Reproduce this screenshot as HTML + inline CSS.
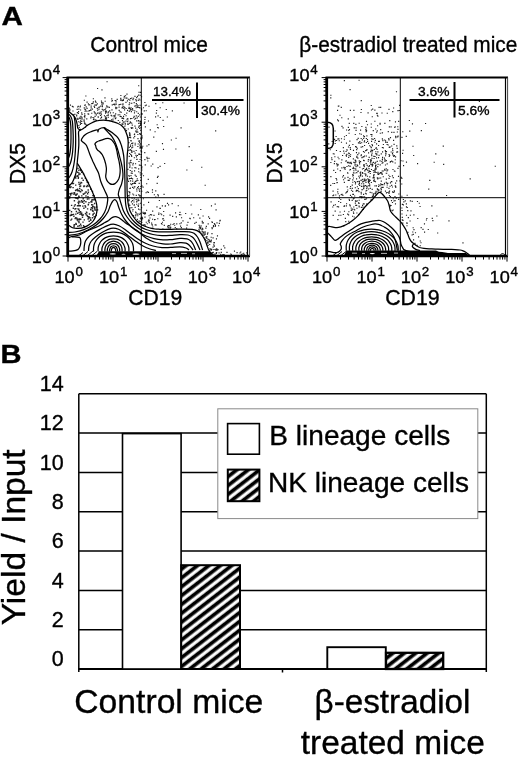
<!DOCTYPE html>
<html lang="en"><head><meta charset="utf-8"><title>Figure</title>
<style>html,body{margin:0;padding:0;background:#fff;overflow:hidden}svg{display:block}text{font-family:"Liberation Sans", Arial, Helvetica, sans-serif;fill:#000;stroke:#000;stroke-width:0.35px}</style>
</head><body>
<svg width="520" height="758" viewBox="0 0 520 758">
<defs><pattern id="h" width="20" height="7" patternUnits="userSpaceOnUse" patternTransform="translate(181.0 567.3) rotate(-37.8)"><rect x="0" y="0" width="20" height="7" fill="#fff"/><rect x="0" y="-0.2" width="20" height="3.75" fill="#000"/><rect x="0" y="6.8" width="20" height="0.4" fill="#000"/></pattern><pattern id="h2" width="20" height="7" patternUnits="userSpaceOnUse" patternTransform="translate(181.0 573.0) rotate(-37.8)"><rect x="0" y="0" width="20" height="7" fill="#fff"/><rect x="0" y="-0.2" width="20" height="3.75" fill="#000"/><rect x="0" y="6.8" width="20" height="0.4" fill="#000"/></pattern><pattern id="h3" width="20" height="7" patternUnits="userSpaceOnUse" patternTransform="translate(181.0 567.3) rotate(-37.8)"><rect x="0" y="0" width="20" height="7" fill="#fff"/><rect x="0" y="-0.2" width="20" height="3.75" fill="#000"/><rect x="0" y="6.8" width="20" height="0.4" fill="#000"/></pattern></defs>
<rect width="520" height="758" fill="#fff"/>
<text x="1.6" y="25" font-size="25" font-weight="bold" textLength="21.4" lengthAdjust="spacingAndGlyphs" stroke="none">A</text>
<text x="0.4" y="362.5" font-size="25" font-weight="bold" textLength="21" lengthAdjust="spacingAndGlyphs" stroke="none">B</text>
<text x="90.3" y="52" font-size="22" textLength="117.5" lengthAdjust="spacingAndGlyphs">Control mice</text>
<text x="299.3" y="51.5" font-size="22" textLength="218" lengthAdjust="spacingAndGlyphs">β-estradiol treated mice</text>
<g id="p1">
<rect x="68.0" y="77.5" width="180.0" height="178.5" fill="#fff"/>
<path d="M88.5 221.2h1.4M78.5 190.7h1.4M76.2 218.7h1.4M92.0 206.8h1.4M87.7 182.4h1.4M76.9 213.2h1.4M73.4 225.0h1.4M84.7 178.3h1.4M87.7 204.5h1.4M94.0 207.5h1.4M90.1 220.3h1.4M93.3 195.7h1.4M74.6 177.0h1.4M86.7 199.0h1.4M81.1 195.9h1.4M74.9 190.6h1.4M86.1 212.7h1.4M74.9 194.9h1.4M77.7 219.1h1.4M74.5 218.5h1.4M82.5 198.7h1.4M72.4 187.6h1.4M83.0 194.3h1.4M85.8 212.3h1.4M75.2 223.4h1.4M91.9 210.8h1.4M81.3 178.3h1.4M87.4 219.0h1.4M90.3 209.9h1.4M70.6 193.5h1.4M77.3 198.2h1.4M88.3 202.6h1.4M77.1 190.8h1.4M77.1 175.7h1.4M75.3 195.4h1.4M74.5 204.7h1.4M79.3 174.0h1.4M76.8 205.7h1.4M93.5 216.8h1.4M68.9 198.1h1.4M85.7 192.1h1.4M90.1 201.9h1.4M92.5 214.2h1.4M79.9 224.3h1.4M87.3 196.8h1.4M70.0 195.0h1.4M79.9 191.8h1.4M78.9 219.0h1.4M79.6 169.4h1.4M76.1 218.2h1.4M83.9 186.1h1.4M81.0 172.2h1.4M78.2 170.4h1.4M94.3 210.0h1.4M78.2 205.8h1.4M73.9 193.3h1.4M87.7 192.2h1.4M84.2 193.2h1.4M80.8 200.8h1.4M80.3 182.5h1.4M80.9 214.5h1.4M73.3 194.2h1.4M75.6 224.2h1.4M69.0 186.0h1.4M96.9 209.9h1.4M75.7 211.5h1.4M77.1 190.1h1.4M84.9 207.0h1.4M86.9 216.6h1.4M79.6 205.8h1.4M75.1 178.0h1.4M76.6 189.7h1.4M77.5 202.5h1.4M86.5 215.5h1.4M91.8 191.4h1.4M95.8 207.0h1.4M80.9 182.7h1.4M93.4 213.2h1.4M73.4 227.0h1.4M85.2 191.9h1.4M95.3 210.1h1.4M78.1 173.0h1.4M77.3 168.5h1.4M93.5 199.3h1.4M87.6 204.7h1.4M91.7 217.8h1.4M78.8 225.7h1.4M81.8 217.3h1.4M79.2 186.2h1.4M78.5 184.4h1.4M70.9 205.4h1.4M83.2 203.4h1.4M78.3 222.6h1.4M91.4 199.6h1.4M80.0 219.3h1.4M81.5 190.5h1.4M95.6 215.2h1.4M88.2 198.9h1.4M80.6 189.9h1.4M75.4 190.0h1.4M75.8 176.1h1.4M79.2 202.1h1.4M92.7 199.9h1.4M91.0 204.7h1.4M69.0 187.2h1.4M72.6 208.3h1.4M79.4 191.6h1.4M73.3 227.0h1.4M76.9 172.2h1.4M79.7 183.9h1.4M74.3 209.0h1.4M84.8 213.6h1.4M91.9 208.9h1.4M71.0 215.3h1.4M87.5 186.1h1.4M85.3 196.0h1.4M76.4 198.4h1.4M69.0 210.4h1.4M81.5 202.2h1.4M88.8 214.0h1.4M78.4 212.6h1.4M79.3 214.4h1.4M83.6 200.8h1.4M83.4 185.9h1.4M70.6 214.4h1.4M72.8 214.4h1.4M83.1 186.5h1.4M77.2 226.2h1.4M78.1 209.2h1.4M86.9 193.7h1.4M86.9 208.9h1.4M85.6 214.9h1.4M77.6 178.2h1.4M82.2 215.0h1.4M82.3 222.1h1.4M73.7 200.8h1.4M77.1 198.8h1.4M73.8 192.6h1.4M77.7 177.4h1.4M82.6 214.9h1.4M85.2 201.8h1.4M75.3 198.1h1.4M83.6 226.7h1.4M86.6 185.5h1.4M74.0 224.6h1.4M91.1 201.0h1.4M82.6 194.0h1.4M74.8 197.7h1.4M75.6 194.5h1.4M71.0 219.1h1.4M69.1 196.7h1.4M90.7 207.8h1.4M71.3 193.5h1.4M82.8 173.9h1.4M72.6 183.5h1.4M80.5 225.9h1.4M78.4 221.9h1.4M69.4 193.8h1.4M77.3 208.9h1.4M86.5 182.0h1.4M90.0 209.5h1.4M94.1 208.6h1.4M71.4 214.6h1.4M71.3 193.2h1.4M93.9 203.5h1.4M69.6 187.5h1.4M73.4 226.5h1.4M85.9 180.3h1.4M82.9 225.8h1.4M75.1 208.6h1.4M89.3 217.7h1.4M80.0 170.5h1.4M83.6 219.9h1.4M77.5 221.1h1.4M76.5 194.0h1.4M88.1 216.6h1.4M80.2 213.1h1.4M92.1 215.1h1.4M76.6 220.0h1.4M91.1 202.1h1.4M78.6 210.8h1.4M70.8 211.8h1.4M81.0 213.3h1.4M86.0 186.6h1.4M78.1 196.2h1.4M78.2 174.6h1.4M76.9 189.2h1.4M72.8 183.4h1.4M87.5 190.0h1.4M73.7 206.1h1.4M89.9 219.5h1.4M94.2 199.7h1.4M75.1 217.6h1.4M92.0 205.0h1.4M82.5 180.3h1.4M93.4 206.9h1.4M88.4 217.2h1.4M69.6 215.5h1.4M70.2 220.1h1.4M76.4 198.3h1.4M81.5 215.3h1.4M73.2 216.3h1.4M92.4 211.2h1.4M88.1 218.0h1.4M83.2 208.3h1.4M82.1 201.5h1.4M77.1 176.3h1.4M94.2 199.5h1.4M78.2 182.5h1.4M78.6 197.2h1.4M73.4 192.8h1.4M79.0 188.5h1.4M79.9 186.0h1.4M84.4 205.7h1.4M72.0 183.6h1.4M82.1 206.1h1.4M79.9 211.7h1.4M78.2 201.1h1.4M92.2 206.6h1.4M91.4 207.7h1.4M75.1 214.1h1.4M78.7 219.8h1.4M76.9 219.3h1.4M79.1 201.9h1.4M78.0 203.9h1.4M70.5 186.9h1.4M79.1 202.0h1.4M92.2 195.6h1.4M90.2 189.2h1.4M75.0 185.1h1.4" stroke="#000" stroke-width="1.4" stroke-opacity="0.85" fill="none"/>
<path d="M99.4 112.2h1.15M141.0 151.9h1.15M130.9 155.4h1.15M131.8 173.2h1.15M139.7 95.2h1.15M86.5 108.4h1.15M134.3 186.7h1.15M133.9 112.8h1.15M77.7 106.3h1.15M138.1 204.0h1.15M127.0 110.3h1.15M131.0 128.3h1.15M135.0 163.7h1.15M79.7 129.2h1.15M136.1 204.2h1.15M97.1 110.1h1.15M94.0 107.3h1.15M127.2 118.5h1.15M95.8 114.9h1.15M141.0 160.5h1.15M95.4 102.4h1.15M76.8 112.6h1.15M120.3 95.5h1.15M100.7 111.7h1.15M123.0 118.6h1.15M137.2 132.1h1.15M110.6 115.4h1.15M89.1 104.7h1.15M78.3 125.5h1.15M135.6 212.8h1.15M137.5 199.1h1.15M137.3 134.5h1.15M142.9 107.7h1.15M137.2 215.7h1.15M140.4 150.8h1.15M139.6 221.5h1.15M121.3 118.2h1.15M139.3 145.0h1.15M103.9 115.7h1.15M133.2 137.9h1.15M94.9 101.1h1.15M96.8 103.8h1.15M130.1 137.7h1.15M151.4 224.4h1.15M132.0 178.8h1.15M107.8 111.8h1.15M137.9 120.5h1.15M126.9 100.9h1.15M136.6 104.8h1.15M117.6 114.8h1.15M134.6 207.4h1.15M127.1 179.8h1.15M80.0 110.0h1.15M140.9 217.4h1.15M138.1 95.1h1.15M106.4 106.9h1.15M94.5 112.9h1.15M151.9 192.2h1.15M79.8 124.5h1.15M80.0 120.8h1.15M135.8 132.2h1.15M134.4 96.3h1.15M139.0 195.9h1.15M130.2 109.6h1.15M124.2 114.5h1.15M80.0 120.9h1.15M135.9 156.9h1.15M136.9 155.5h1.15M135.4 105.7h1.15M138.4 127.0h1.15M127.7 129.0h1.15M139.4 209.7h1.15M141.2 222.4h1.15M136.1 201.8h1.15M132.0 187.3h1.15M79.4 117.4h1.15M91.2 113.2h1.15M137.8 206.4h1.15M120.3 100.4h1.15M135.6 150.5h1.15M128.9 132.9h1.15M154.5 131.7h1.15M140.7 157.1h1.15M131.3 118.5h1.15M87.8 103.7h1.15M139.9 147.0h1.15M131.5 198.1h1.15M86.5 125.4h1.15M83.8 123.0h1.15M139.7 121.6h1.15M104.9 111.6h1.15M144.3 119.5h1.15M107.7 114.9h1.15M92.4 117.5h1.15M98.4 109.1h1.15M84.4 109.3h1.15M133.8 157.7h1.15M115.4 100.7h1.15M140.6 165.5h1.15M122.3 118.3h1.15M135.6 176.4h1.15M129.7 149.6h1.15M79.9 106.0h1.15M133.8 204.9h1.15M106.2 115.7h1.15M130.6 140.8h1.15M94.5 116.3h1.15M122.3 123.8h1.15M131.1 143.5h1.15M129.0 135.5h1.15M139.2 141.2h1.15M138.7 189.9h1.15M146.7 191.8h1.15M72.9 114.7h1.15M129.3 192.3h1.15M135.4 155.4h1.15M112.4 120.2h1.15M139.9 125.3h1.15M116.3 107.8h1.15M86.5 102.1h1.15M128.6 107.2h1.15M114.8 118.6h1.15M138.0 127.2h1.15M105.6 119.4h1.15M140.8 154.6h1.15M128.7 147.5h1.15M95.6 105.3h1.15M131.2 103.2h1.15M128.5 200.5h1.15M141.0 207.6h1.15M140.4 127.6h1.15M130.5 107.9h1.15M154.6 224.8h1.15M105.0 113.1h1.15M140.9 147.0h1.15M133.6 102.6h1.15M131.3 98.1h1.15M130.0 146.3h1.15M140.0 130.2h1.15M136.0 180.8h1.15M111.8 100.5h1.15M105.8 111.0h1.15M129.1 134.3h1.15M130.7 103.2h1.15M140.8 139.3h1.15M132.2 128.0h1.15M138.3 200.4h1.15M107.5 112.9h1.15M122.3 124.4h1.15M121.9 107.7h1.15M97.6 116.8h1.15M152.0 219.2h1.15M133.8 186.8h1.15M135.5 168.0h1.15M85.0 127.2h1.15M129.3 100.1h1.15M137.6 205.5h1.15M139.9 195.7h1.15M144.3 159.6h1.15M96.0 120.3h1.15M127.8 99.2h1.15M128.7 137.3h1.15M128.3 204.1h1.15M140.3 186.5h1.15M90.6 106.1h1.15M141.6 113.7h1.15M78.0 111.6h1.15M138.5 99.0h1.15M139.2 114.9h1.15M125.6 108.5h1.15M90.2 109.8h1.15M129.3 188.5h1.15M140.8 113.2h1.15M83.5 119.7h1.15M93.3 119.7h1.15M138.0 209.1h1.15M140.6 219.0h1.15M141.3 170.0h1.15M130.0 98.5h1.15M115.2 107.2h1.15M136.4 201.0h1.15M140.0 197.4h1.15M139.8 218.2h1.15M104.6 101.2h1.15M139.7 172.9h1.15M141.2 191.2h1.15M105.0 118.6h1.15M145.5 192.7h1.15M79.5 106.9h1.15M128.5 163.1h1.15M131.5 109.7h1.15M136.3 191.0h1.15M96.6 113.5h1.15M163.3 220.3h1.15M131.9 203.9h1.15M137.8 121.0h1.15M132.3 164.8h1.15M78.1 121.7h1.15M100.9 101.0h1.15M83.7 107.8h1.15M131.1 184.6h1.15M129.2 123.3h1.15M124.3 107.6h1.15M115.2 108.2h1.15M119.6 116.3h1.15M115.4 108.6h1.15M91.2 103.6h1.15M139.1 142.6h1.15M128.4 191.6h1.15M84.5 111.2h1.15M123.2 108.3h1.15M72.4 111.0h1.15M168.0 227.8h1.15M128.2 99.2h1.15M128.7 111.3h1.15M139.1 128.5h1.15M139.7 123.1h1.15M136.4 131.0h1.15M76.1 115.0h1.15M104.9 118.3h1.15M108.8 107.4h1.15M92.8 101.9h1.15M139.4 121.1h1.15M114.3 104.9h1.15M118.4 104.9h1.15M115.7 104.1h1.15M94.7 119.8h1.15M100.9 114.7h1.15M77.6 119.0h1.15M122.3 117.7h1.15M84.0 115.7h1.15M133.4 202.0h1.15M125.9 130.6h1.15M84.2 123.9h1.15M135.6 107.7h1.15M141.0 96.7h1.15M83.8 116.5h1.15M152.2 164.1h1.15M129.2 194.0h1.15M134.1 136.3h1.15M137.6 105.7h1.15M81.4 118.0h1.15M86.4 111.2h1.15M97.4 112.7h1.15M134.9 183.5h1.15M129.7 170.5h1.15M126.4 94.1h1.15M94.3 105.0h1.15M94.6 113.7h1.15M111.0 119.8h1.15M140.0 123.2h1.15M140.0 92.5h1.15M131.2 123.2h1.15M136.2 189.1h1.15M88.1 114.1h1.15M131.9 127.7h1.15M135.1 118.4h1.15M140.3 177.5h1.15M129.7 137.1h1.15M132.6 163.4h1.15M134.0 170.9h1.15M139.3 154.5h1.15M134.2 110.9h1.15M128.9 197.4h1.15M81.5 114.4h1.15M136.2 159.5h1.15M130.2 122.5h1.15M109.9 112.8h1.15M130.0 118.6h1.15M129.2 167.3h1.15M137.6 144.0h1.15M162.3 229.0h1.15M118.6 110.3h1.15M107.8 117.2h1.15M98.3 107.3h1.15M128.3 150.3h1.15M92.3 103.4h1.15M121.3 124.0h1.15M134.2 119.2h1.15M137.7 188.2h1.15M129.2 164.2h1.15M130.5 162.6h1.15M69.9 105.1h1.15M130.0 145.0h1.15M151.0 223.0h1.15M85.2 110.7h1.15M85.6 106.9h1.15M139.2 214.3h1.15M136.5 159.3h1.15M136.7 214.1h1.15M107.5 107.0h1.15M131.5 168.0h1.15M74.3 114.3h1.15M125.3 98.0h1.15M139.6 188.5h1.15M138.2 123.4h1.15M135.2 131.1h1.15M93.4 118.0h1.15M132.0 183.6h1.15M132.2 194.0h1.15M84.3 105.5h1.15M81.3 117.2h1.15M130.1 154.5h1.15M81.1 112.8h1.15M169.3 225.9h1.15M131.9 200.6h1.15M81.2 121.4h1.15M129.5 110.1h1.15M128.3 142.6h1.15M131.6 143.4h1.15M131.2 150.9h1.15M129.6 137.5h1.15M134.9 181.3h1.15M86.2 118.9h1.15M90.6 116.8h1.15M141.1 168.1h1.15M144.2 152.6h1.15M130.9 152.2h1.15M100.2 106.1h1.15M137.0 187.5h1.15M105.8 118.1h1.15M80.4 116.4h1.15M102.6 110.7h1.15M111.4 109.8h1.15M127.3 169.3h1.15M129.5 108.5h1.15M76.6 109.3h1.15M128.3 175.6h1.15M120.6 116.6h1.15M131.3 207.6h1.15M105.7 112.1h1.15M115.3 117.9h1.15M131.5 152.1h1.15M132.3 143.0h1.15M80.1 123.2h1.15M119.2 114.7h1.15M139.9 143.9h1.15M133.7 198.2h1.15M133.4 151.3h1.15M127.8 138.0h1.15M135.7 195.4h1.15M139.8 92.2h1.15M133.5 205.2h1.15M140.2 180.3h1.15M164.7 206.1h1.15M128.9 102.8h1.15M101.7 109.3h1.15M128.7 147.3h1.15M122.8 100.3h1.15M130.9 201.9h1.15M109.3 120.7h1.15M147.2 161.0h1.15M128.3 108.4h1.15M134.6 144.9h1.15M140.2 124.7h1.15M88.2 111.0h1.15M125.5 115.7h1.15M125.0 95.7h1.15M128.8 176.2h1.15M129.1 153.5h1.15M76.1 116.0h1.15M69.2 110.6h1.15M118.5 107.1h1.15M86.1 125.6h1.15M92.8 98.7h1.15M135.0 212.1h1.15M77.1 107.0h1.15M140.9 139.2h1.15M141.3 114.4h1.15M79.6 122.4h1.15M139.1 191.4h1.15M101.1 104.0h1.15M139.3 165.1h1.15M123.3 106.6h1.15M137.3 146.5h1.15M139.8 117.0h1.15M119.5 111.8h1.15M88.9 110.6h1.15M114.3 104.0h1.15M84.2 117.7h1.15M138.5 153.7h1.15M134.5 153.1h1.15M90.2 118.0h1.15M121.5 107.8h1.15M130.3 140.6h1.15M127.4 120.0h1.15M138.8 165.1h1.15M119.2 122.3h1.15M106.2 105.7h1.15M123.6 97.9h1.15M123.0 116.4h1.15M133.2 117.6h1.15M69.3 109.3h1.15M129.6 207.8h1.15M130.8 111.6h1.15M139.9 148.0h1.15M122.6 122.2h1.15M104.8 109.9h1.15M85.0 109.2h1.15M78.3 109.1h1.15M140.1 124.4h1.15M123.5 121.9h1.15M130.7 173.1h1.15M141.0 108.7h1.15M104.8 116.8h1.15M141.6 137.9h1.15M138.1 168.8h1.15M77.2 118.4h1.15M104.4 97.9h1.15M133.4 183.4h1.15M130.4 175.6h1.15M136.8 219.3h1.15M125.4 102.4h1.15M139.7 213.4h1.15M84.1 122.7h1.15M111.7 104.9h1.15M128.6 104.6h1.15M137.6 200.7h1.15M133.1 188.2h1.15M127.0 110.3h1.15M109.1 110.9h1.15M130.5 160.2h1.15M81.1 123.5h1.15M91.8 109.1h1.15M144.3 122.1h1.15M141.1 220.1h1.15M129.0 192.5h1.15M133.1 195.0h1.15M141.1 218.5h1.15M131.1 156.3h1.15M137.7 116.4h1.15M135.3 99.6h1.15M142.8 198.7h1.15M153.2 137.1h1.15M134.6 143.2h1.15M128.5 195.6h1.15M136.7 117.9h1.15M148.3 144.6h1.15M72.6 106.9h1.15M145.6 110.7h1.15M138.4 161.5h1.15M140.7 123.0h1.15M95.6 104.8h1.15M146.1 183.7h1.15M139.5 105.2h1.15M107.5 115.3h1.15M127.0 178.2h1.15M134.4 126.1h1.15M116.6 99.3h1.15M102.4 102.7h1.15M132.0 108.6h1.15M84.0 115.9h1.15M139.9 175.0h1.15M132.4 99.6h1.15M135.2 215.7h1.15M100.2 118.2h1.15M79.9 123.2h1.15M135.0 128.1h1.15M128.9 178.6h1.15M71.8 106.4h1.15M141.3 166.8h1.15M115.1 113.8h1.15M111.3 101.1h1.15M137.3 107.4h1.15M124.3 126.2h1.15M127.6 195.8h1.15M105.3 118.8h1.15M120.7 112.2h1.15M85.0 124.1h1.15M128.1 200.9h1.15M127.1 121.6h1.15M129.3 133.3h1.15M126.3 98.1h1.15M112.7 112.7h1.15M133.3 200.0h1.15M138.4 92.2h1.15M99.0 107.0h1.15M161.9 143.6h1.15M134.4 167.6h1.15M132.4 209.5h1.15M106.0 117.9h1.15M102.5 103.8h1.15M134.6 217.2h1.15M131.1 147.9h1.15M139.5 159.5h1.15M101.0 117.0h1.15M133.0 98.2h1.15M125.1 129.0h1.15M139.4 100.0h1.15M130.5 150.3h1.15M139.6 133.8h1.15M124.0 109.9h1.15M138.7 125.8h1.15M129.4 165.9h1.15M131.4 171.4h1.15M137.7 113.3h1.15M132.1 147.1h1.15M101.8 106.6h1.15M136.7 106.8h1.15M140.2 138.1h1.15M128.5 108.3h1.15M99.9 115.4h1.15M128.7 156.4h1.15M136.9 96.4h1.15M150.6 166.0h1.15M136.1 111.7h1.15M130.2 183.9h1.15M141.0 109.9h1.15M78.7 127.3h1.15M83.3 121.0h1.15M84.5 115.9h1.15M114.4 116.2h1.15M121.9 107.1h1.15M122.4 103.8h1.15M135.8 103.6h1.15M138.3 194.7h1.15M138.6 107.5h1.15M136.1 97.6h1.15M112.4 119.0h1.15M138.5 220.8h1.15M172.5 224.5h1.15M139.2 140.9h1.15M137.7 100.3h1.15M132.1 181.1h1.15M111.2 98.8h1.15M85.8 125.1h1.15M96.7 108.4h1.15M135.7 115.9h1.15M129.8 160.7h1.15M122.7 99.6h1.15M115.5 102.0h1.15M142.2 146.2h1.15M139.1 133.6h1.15M125.4 121.1h1.15M93.9 112.0h1.15M113.2 115.7h1.15M83.8 121.1h1.15M143.8 123.4h1.15M97.7 117.1h1.15M130.9 178.0h1.15M127.0 124.1h1.15M79.2 118.5h1.15M129.7 162.2h1.15M135.7 176.2h1.15M137.9 186.5h1.15M141.2 219.9h1.15M140.2 121.3h1.15M84.6 104.8h1.15M121.9 120.6h1.15M133.0 215.6h1.15M129.7 178.5h1.15M147.9 121.0h1.15M126.4 119.2h1.15M105.2 108.2h1.15M135.8 100.8h1.15M127.9 124.1h1.15M128.4 199.3h1.15M134.3 106.1h1.15M136.7 178.9h1.15M128.0 181.3h1.15M88.4 104.8h1.15M124.6 123.3h1.15M138.2 141.1h1.15M120.4 99.5h1.15M138.3 154.4h1.15M135.2 214.9h1.15M139.2 148.0h1.15M138.6 183.4h1.15M93.6 106.4h1.15M101.8 105.2h1.15M90.3 110.5h1.15M117.7 120.5h1.15M134.0 183.3h1.15M137.4 138.6h1.15M101.1 102.4h1.15M121.7 100.6h1.15M136.1 120.8h1.15M113.6 117.0h1.15M114.4 115.4h1.15M129.2 205.3h1.15M144.7 105.7h1.15M137.3 180.5h1.15M144.3 102.5h1.15M140.6 148.1h1.15M130.6 127.6h1.15M83.8 100.2h1.15M141.3 173.8h1.15M132.0 145.2h1.15M134.3 182.2h1.15M139.7 133.8h1.15M137.6 214.0h1.15M156.6 183.4h1.15M132.2 211.0h1.15M134.0 134.1h1.15M120.2 98.4h1.15M130.9 178.4h1.15M141.1 138.0h1.15M138.1 171.7h1.15M136.5 129.2h1.15M93.6 111.7h1.15M130.0 180.9h1.15M144.5 117.4h1.15M129.7 135.1h1.15M141.3 185.9h1.15M138.1 194.9h1.15M79.8 118.7h1.15M100.4 113.4h1.15M84.1 113.8h1.15M81.4 119.1h1.15M135.6 199.3h1.15M119.2 104.5h1.15M132.4 110.2h1.15M126.2 113.1h1.15M133.6 116.3h1.15M114.6 100.5h1.15M87.5 113.8h1.15M139.3 107.8h1.15M166.6 229.2h1.15M134.6 175.1h1.15M139.6 146.0h1.15M131.7 125.1h1.15M139.9 134.4h1.15M103.5 109.6h1.15M77.8 113.3h1.15M129.7 121.9h1.15M122.3 104.9h1.15M129.8 188.1h1.15M139.9 203.2h1.15M92.9 119.4h1.15M77.2 119.4h1.15M100.9 117.3h1.15M133.8 134.5h1.15M113.1 104.4h1.15M111.3 116.0h1.15M75.2 118.3h1.15M68.7 108.1h1.15M120.3 104.2h1.15M98.7 113.6h1.15M90.6 107.8h1.15M124.7 124.7h1.15M159.7 117.5h1.15M155.2 190.9h1.15M155.2 197.0h1.15M171.8 110.9h1.15M201.2 167.2h1.15M155.0 116.9h1.15M166.8 117.0h1.15M155.8 113.1h1.15M153.8 194.7h1.15M162.9 149.3h1.15M164.1 163.5h1.15M163.1 126.5h1.15M146.7 158.6h1.15M204.6 185.2h1.15M157.1 127.5h1.15M162.2 102.7h1.15M157.5 176.3h1.15M223.2 107.1h1.15M146.4 146.0h1.15M163.5 194.4h1.15M143.7 110.9h1.15M156.9 177.3h1.15M141.7 136.0h1.15M170.8 140.0h1.15M145.7 105.1h1.15M175.3 149.0h1.15M159.5 166.3h1.15M175.5 138.2h1.15M151.9 189.9h1.15M142.9 175.7h1.15M155.8 151.3h1.15M147.9 192.3h1.15M149.7 130.0h1.15M142.5 187.1h1.15M183.5 103.0h1.15M144.8 126.8h1.15M141.7 147.8h1.15M186.3 170.0h1.15M157.8 195.9h1.15M149.7 129.8h1.15M148.4 158.3h1.15M156.1 110.5h1.15M157.3 194.6h1.15M191.3 160.4h1.15M188.6 146.6h1.15M157.5 167.6h1.15M146.4 157.3h1.15M157.7 127.8h1.15M157.5 115.8h1.15M165.7 109.5h1.15M155.2 103.6h1.15M159.6 107.7h1.15M182.7 99.8h1.15M180.5 127.9h1.15M215.1 130.9h1.15M144.7 164.9h1.15M147.7 179.3h1.15M156.6 124.7h1.15M162.5 120.3h1.15M148.4 106.2h1.15M167.1 226.8h1.15M161.5 224.2h1.15M182.4 220.9h1.15M189.7 218.7h1.15M194.2 223.3h1.15M211.5 227.6h1.15M169.8 228.9h1.15M215.5 209.9h1.15M179.4 212.4h1.15M190.5 205.0h1.15M214.9 225.4h1.15M170.1 224.2h1.15M218.8 223.3h1.15M176.1 228.8h1.15M177.7 205.7h1.15M180.2 214.7h1.15M214.6 204.1h1.15M202.8 222.8h1.15M171.6 203.6h1.15M208.0 216.8h1.15M154.0 219.6h1.15M199.7 227.7h1.15M173.5 223.5h1.15M168.3 228.0h1.15M160.9 223.5h1.15M151.0 214.8h1.15M180.0 226.1h1.15M168.1 225.6h1.15M193.1 217.7h1.15M181.0 217.7h1.15M191.2 214.0h1.15M202.5 216.0h1.15M151.7 225.1h1.15M158.3 213.0h1.15M161.8 205.8h1.15M174.7 227.5h1.15M200.2 227.2h1.15M176.2 223.8h1.15M195.6 222.4h1.15M197.8 214.8h1.15M219.6 220.3h1.15M180.7 222.8h1.15M175.0 212.8h1.15M189.3 218.3h1.15M209.0 218.3h1.15M213.8 223.6h1.15M200.2 209.5h1.15M185.1 213.5h1.15M170.1 227.4h1.15M211.4 221.8h1.15M219.3 220.8h1.15M168.6 227.8h1.15M214.7 226.4h1.15M161.9 222.2h1.15M201.7 221.3h1.15M153.4 215.3h1.15M198.6 225.5h1.15M216.4 222.9h1.15M205.3 228.1h1.15M172.1 216.3h1.15M199.3 218.1h1.15M199.9 228.7h1.15M211.6 228.6h1.15M167.5 225.8h1.15M186.0 228.1h1.15M180.8 227.6h1.15M174.1 225.2h1.15M158.2 214.4h1.15M152.2 227.0h1.15M214.3 224.3h1.15M218.1 225.7h1.15M187.4 222.3h1.15M178.9 214.6h1.15M186.5 225.1h1.15M210.9 205.8h1.15M141.7 217.4h1.15M161.1 214.7h1.15M148.7 220.9h1.15M143.9 213.8h1.15M144.6 225.1h1.15M163.1 211.5h1.15M163.1 215.7h1.15M156.4 206.9h1.15M162.2 218.8h1.15M148.7 222.6h1.15M145.7 222.2h1.15M168.0 204.8h1.15M159.7 208.4h1.15M146.0 210.2h1.15M162.6 218.5h1.15M148.3 219.8h1.15M164.9 205.7h1.15M169.5 215.1h1.15M155.6 225.0h1.15M144.9 213.6h1.15M158.8 200.5h1.15M148.5 215.7h1.15M149.8 214.6h1.15M166.9 203.3h1.15M159.3 208.2h1.15M142.7 213.4h1.15M143.4 213.3h1.15M144.1 212.9h1.15M144.8 212.9h1.15M154.5 219.5h1.15M143.4 224.6h1.15M148.0 202.4h1.15M149.4 218.0h1.15M147.8 221.1h1.15M146.7 223.7h1.15M179.3 223.7h1.15M142.4 212.2h1.15M152.1 211.1h1.15M144.4 217.1h1.15M143.3 204.9h1.15M157.2 218.7h1.15M175.8 216.9h1.15M160.3 213.7h1.15M163.7 225.4h1.15M142.0 218.6h1.15M208.7 240.4h1.15M204.4 233.1h1.15M212.9 226.6h1.15M213.5 249.5h1.15M224.2 247.8h1.15M213.8 246.1h1.15M201.6 231.9h1.15M211.8 222.5h1.15M208.3 241.7h1.15M211.2 249.4h1.15M202.3 229.1h1.15M198.6 225.3h1.15M206.3 236.6h1.15M216.2 248.8h1.15M203.0 232.1h1.15M218.5 252.9h1.15M198.9 231.1h1.15M210.3 240.9h1.15M201.3 229.7h1.15M206.3 240.5h1.15M217.4 249.6h1.15M205.8 226.3h1.15M201.8 222.9h1.15M211.4 233.6h1.15M213.2 244.8h1.15M212.5 247.1h1.15M201.6 228.6h1.15M215.9 238.8h1.15M208.3 239.5h1.15M210.7 250.2h1.15M211.3 253.2h1.15M206.9 242.1h1.15M210.6 237.2h1.15M212.9 225.5h1.15M207.3 243.3h1.15M207.9 242.0h1.15M213.6 254.1h1.15M201.9 235.0h1.15M204.0 238.1h1.15M200.5 225.8h1.15M220.2 254.3h1.15M213.8 242.5h1.15M204.5 234.3h1.15M199.0 226.7h1.15M212.5 237.9h1.15M209.2 250.2h1.15M223.2 245.8h1.15M198.4 229.6h1.15M216.9 235.8h1.15M202.5 223.0h1.15M207.5 245.4h1.15M213.2 242.7h1.15M216.3 250.4h1.15M210.8 240.2h1.15M213.6 242.9h1.15M207.3 232.8h1.15M210.7 240.0h1.15M212.7 252.3h1.15M199.3 231.5h1.15M206.9 234.1h1.15M215.7 249.1h1.15M201.7 231.3h1.15M215.9 253.4h1.15M204.7 239.4h1.15M205.5 237.1h1.15M206.1 238.1h1.15M209.4 241.6h1.15M202.5 233.4h1.15M203.3 234.7h1.15M220.7 249.4h1.15M209.4 248.7h1.15M198.7 228.0h1.15M210.2 249.1h1.15M204.5 231.9h1.15M213.3 249.5h1.15M211.6 252.6h1.15M210.8 249.8h1.15M210.5 242.0h1.15M207.2 239.0h1.15M207.6 223.9h1.15M201.7 228.4h1.15M213.6 255.0h1.15M215.0 249.9h1.15M209.1 244.5h1.15M203.4 235.5h1.15M226.4 252.4h1.15M230.2 254.0h1.15M240.2 252.0h1.15M239.4 253.0h1.15M215.1 254.1h1.15M243.2 253.2h1.15M230.7 254.5h1.15M246.3 252.9h1.15M215.8 252.6h1.15M220.7 252.3h1.15M233.9 251.1h1.15M216.1 252.5h1.15M236.5 252.6h1.15M240.9 255.0h1.15M138.1 85.7h1.15M101.4 89.8h1.15M85.3 96.0h1.15M123.8 96.4h1.15M97.0 88.5h1.15M106.5 81.7h1.15" stroke="#000" stroke-width="1.15" stroke-opacity="0.88" fill="none"/>
<g stroke="#000" stroke-width="1.25" fill="none" stroke-linejoin="round">
<path d="M68.0 111.0C68.3 111.2 69.1 111.8 70.0 112.5C70.9 113.2 72.5 114.3 73.5 115.5C74.5 116.7 75.4 118.3 76.0 119.8C76.6 121.3 76.9 123.0 77.2 124.5C77.5 126.0 77.4 127.6 78.0 128.5C78.6 129.4 79.8 130.0 80.8 129.9C81.8 129.8 82.9 128.8 84.0 128.0C85.1 127.2 86.2 126.0 87.5 125.2C88.8 124.4 90.2 123.7 91.5 123.0C92.8 122.3 94.3 121.7 95.6 121.2C96.9 120.8 98.2 120.5 99.5 120.3C100.8 120.1 102.2 120.0 103.7 120.0C105.2 120.0 106.9 120.3 108.5 120.6C110.1 120.9 111.6 121.4 113.1 121.8C114.6 122.2 116.2 122.6 117.5 123.2C118.8 123.8 120.1 124.4 121.2 125.2C122.3 126.0 123.2 127.1 124.0 128.2C124.8 129.3 125.3 130.4 125.9 131.9C126.5 133.4 127.2 135.2 127.6 137.0C128.0 138.8 128.2 140.6 128.2 142.7C128.2 144.8 128.0 147.3 127.8 149.5C127.6 151.7 127.3 153.8 127.2 156.1C127.1 158.3 127.0 160.8 126.9 163.0C126.9 165.2 126.9 167.1 126.9 169.6C126.9 172.1 127.0 175.3 127.0 178.0C127.0 180.7 127.0 183.3 127.0 185.8C127.0 188.3 127.1 190.8 127.2 193.0C127.3 195.2 127.4 197.3 127.6 199.2C127.8 201.1 128.0 202.8 128.3 204.5C128.6 206.2 129.1 208.1 129.6 209.7C130.1 211.2 130.8 212.5 131.5 213.8C132.2 215.1 133.1 216.2 134.0 217.5C134.9 218.8 135.9 220.2 137.0 221.3C138.1 222.4 139.2 223.2 140.5 224.0C141.8 224.8 143.4 225.6 145.0 226.3C146.6 227.0 148.3 227.6 150.0 228.0C151.7 228.4 153.3 228.8 155.0 229.0C156.7 229.2 157.8 229.2 160.0 229.3C162.2 229.4 165.5 229.3 168.0 229.3C170.5 229.3 172.3 229.2 175.0 229.2C177.7 229.2 181.1 229.2 184.0 229.2C186.9 229.2 190.1 229.2 192.3 229.4C194.5 229.6 195.6 230.0 197.0 230.6C198.4 231.2 199.5 232.0 200.5 233.0C201.5 234.0 202.2 235.2 203.0 236.5C203.8 237.8 204.5 239.0 205.2 240.5C205.9 242.0 206.4 243.9 207.0 245.5C207.6 247.1 208.0 248.8 208.7 250.0C209.4 251.2 210.2 252.2 211.0 253.0C211.8 253.8 213.1 254.7 213.5 255.0"/>
<path d="M80.8 129.9C80.5 130.1 79.4 130.3 79.0 130.8C78.6 131.3 78.5 131.6 78.5 133.0C78.5 134.4 78.8 136.9 78.8 139.0C78.8 141.1 78.9 143.2 78.8 145.4C78.7 147.6 78.5 149.8 78.3 152.0C78.1 154.2 77.8 157.0 77.6 158.8C77.4 160.6 77.3 162.3 77.2 163.0"/>
<path d="M77.2 163.0C77.5 163.4 78.2 164.5 78.8 165.6C79.4 166.7 80.2 168.0 81.0 169.3C81.8 170.6 82.6 172.0 83.5 173.6C84.4 175.2 85.3 177.2 86.2 179.0C87.1 180.8 87.9 182.4 88.9 184.4C89.9 186.4 91.0 188.7 92.0 191.0C93.0 193.3 94.0 195.8 94.8 198.0C95.6 200.2 96.2 201.9 96.6 204.0C97.0 206.1 97.1 208.4 97.0 210.4C96.9 212.4 96.4 214.2 95.8 216.0C95.2 217.8 94.3 219.5 93.2 221.0C92.1 222.5 90.5 223.8 89.0 224.8C87.5 225.9 85.8 226.7 84.0 227.3C82.2 227.9 80.3 228.2 78.5 228.3C76.7 228.4 74.7 228.4 73.2 228.0C71.7 227.6 70.3 226.3 69.4 225.8C68.5 225.3 68.2 225.1 68.0 225.0"/>
<path d="M77.2 163.0C77.1 163.8 77.0 166.4 76.8 168.0C76.6 169.6 76.5 170.8 76.1 172.3C75.7 173.9 75.2 175.7 74.6 177.3C74.0 178.9 73.4 180.5 72.7 181.7C72.0 182.9 71.3 183.8 70.5 184.5C69.7 185.2 68.4 185.8 68.0 186.0"/>
<path d="M68.0 113.5C68.4 113.9 69.8 114.8 70.5 116.0C71.2 117.2 71.9 118.7 72.3 121.0C72.7 123.3 72.8 126.5 73.0 130.0C73.2 133.5 73.3 138.3 73.2 142.0C73.1 145.7 72.9 149.0 72.6 152.0C72.3 155.0 71.8 157.8 71.3 160.0C70.8 162.2 70.1 163.8 69.6 165.0C69.0 166.2 68.3 167.1 68.0 167.5"/>
<path d="M68.0 116.0C68.3 116.5 69.3 117.3 69.8 119.0C70.3 120.7 70.6 122.8 70.8 126.0C71.0 129.2 71.0 134.3 71.0 138.0C71.0 141.7 70.8 145.2 70.6 148.0C70.4 150.8 70.0 153.2 69.6 155.0C69.2 156.8 68.3 158.3 68.0 159.0"/>
<path d="M74.2 116.5C74.4 117.8 75.0 121.1 75.2 124.0C75.4 126.9 75.5 130.3 75.6 134.0C75.7 137.7 75.7 142.3 75.6 146.0C75.5 149.7 75.3 152.8 75.0 156.0C74.7 159.2 74.3 162.3 73.8 165.0C73.3 167.7 72.7 170.1 72.0 172.0C71.3 173.9 70.5 175.4 69.8 176.5C69.1 177.6 68.3 178.2 68.0 178.5"/>
<path d="M68.0 232.5C69.2 232.4 72.3 232.5 75.0 232.0C77.7 231.5 81.0 230.8 84.0 229.6C87.0 228.4 90.3 226.8 93.0 225.0C95.7 223.2 98.1 221.1 100.0 219.0C101.9 216.9 103.3 214.8 104.5 212.5C105.7 210.2 106.5 207.5 107.0 205.0C107.5 202.5 108.1 200.1 107.7 197.7C107.3 195.3 106.0 193.5 104.8 190.8C103.6 188.1 101.8 184.5 100.8 181.5C99.8 178.5 99.4 175.4 98.5 173.0C97.6 170.6 96.4 168.9 95.5 167.0C94.6 165.1 93.9 163.6 92.9 161.5C92.0 159.4 90.8 156.8 89.8 154.2C88.8 151.6 87.6 147.6 86.6 145.7C85.5 143.8 84.4 143.4 83.5 142.5C82.6 141.6 81.4 141.3 81.3 140.4C81.2 139.5 82.3 138.0 83.0 137.0C83.7 136.0 84.6 135.3 85.5 134.6C86.4 133.9 87.4 133.3 88.5 132.8C89.6 132.3 90.5 131.9 91.9 131.4C93.4 130.9 96.2 129.7 97.2 129.8C98.2 129.9 97.7 132.0 98.0 131.9C98.3 131.8 97.8 130.0 98.8 129.3C99.8 128.6 102.7 127.7 104.0 127.7C105.3 127.7 105.4 128.4 106.7 129.2C108.0 130.0 110.1 131.1 112.0 132.6C113.9 134.1 116.7 136.1 118.3 138.3C119.9 140.5 120.6 142.9 121.5 145.7C122.4 148.5 123.1 152.0 123.6 155.2C124.1 158.4 124.1 161.4 124.3 164.7C124.5 168.0 124.7 171.4 124.8 175.0C124.9 178.6 124.9 182.3 125.0 186.0C125.1 189.7 125.1 193.8 125.2 197.0C125.3 200.2 125.5 202.7 125.8 205.0C126.1 207.3 126.5 209.1 127.2 211.0C127.9 212.9 128.8 214.7 130.0 216.5C131.2 218.3 132.8 220.3 134.5 222.0C136.2 223.7 138.1 225.2 140.0 226.5C141.9 227.8 143.8 228.7 146.0 229.5C148.2 230.3 150.7 230.9 153.0 231.3C155.3 231.7 157.1 231.7 160.0 231.8C162.9 231.9 166.9 231.8 170.6 231.8C174.3 231.8 178.8 231.6 182.0 231.6C185.2 231.6 187.6 231.5 189.6 231.8C191.6 232.1 192.7 232.4 194.0 233.3C195.3 234.2 196.5 235.6 197.5 237.0C198.5 238.4 199.3 240.4 200.0 242.0C200.7 243.6 201.1 245.2 201.5 246.5C201.9 247.8 202.4 249.4 202.6 250.0"/>
<path d="M104.0 127.9C104.6 128.6 106.4 130.4 107.7 131.9C109.0 133.4 110.8 134.9 112.0 136.7C113.2 138.5 114.2 140.3 115.2 142.5C116.2 144.7 117.0 147.4 117.8 149.9C118.6 152.4 119.2 155.1 119.8 157.3C120.4 159.5 120.8 160.9 121.3 163.0C121.8 165.1 122.3 167.7 122.6 170.0C122.9 172.3 123.1 174.7 122.9 177.0C122.7 179.3 122.2 181.7 121.6 183.8C121.0 185.9 119.8 187.9 119.3 189.6C118.8 191.3 118.3 192.8 118.3 194.2C118.3 195.6 119.0 196.5 119.5 198.3C120.0 200.1 120.8 202.9 121.5 205.0C122.2 207.1 122.6 209.0 123.5 211.0C124.4 213.0 125.6 215.0 127.0 217.0C128.4 219.0 130.2 221.2 132.0 223.0C133.8 224.8 135.8 226.5 138.0 228.0C140.2 229.5 142.5 230.9 145.0 232.0C147.5 233.1 150.2 233.9 153.0 234.5C155.8 235.1 159.1 235.5 162.0 235.6C164.9 235.7 167.6 235.5 170.6 235.3C173.6 235.1 177.1 234.7 180.0 234.6C182.9 234.5 186.0 234.6 188.0 235.0C190.0 235.4 190.8 236.0 192.0 236.8C193.2 237.6 194.1 238.7 195.0 240.0C195.9 241.3 196.7 242.8 197.5 244.5C198.3 246.2 199.6 249.1 200.0 250.0"/>
<path d="M68.0 235.5C69.7 235.2 74.7 234.9 78.0 234.0C81.3 233.1 84.8 231.6 88.0 230.0C91.2 228.4 94.5 226.4 97.0 224.5C99.5 222.6 101.4 220.6 103.2 218.5C105.0 216.4 106.6 214.1 107.8 212.0C109.0 209.9 109.4 207.6 110.2 205.8C111.0 204.1 111.7 202.5 112.5 201.5C113.3 200.5 114.0 199.5 114.8 199.6C115.5 199.7 116.3 200.6 117.0 202.0C117.7 203.4 118.2 206.0 119.0 208.0C119.8 210.0 120.4 211.9 121.5 214.0C122.6 216.1 123.9 218.4 125.5 220.5C127.1 222.6 128.9 224.6 131.0 226.5C133.1 228.4 135.5 230.2 138.0 231.8C140.5 233.4 143.3 234.9 146.0 236.0C148.7 237.1 151.2 238.0 154.0 238.6C156.8 239.2 160.2 239.6 163.0 239.8C165.8 240.0 167.8 239.8 170.6 239.6C173.4 239.4 177.3 238.5 180.0 238.4C182.7 238.3 185.2 238.4 187.0 238.8C188.8 239.2 189.5 239.9 190.5 240.8C191.5 241.7 192.1 242.5 193.0 244.0C193.9 245.5 195.2 249.0 195.7 250.0"/>
<path d="M68.0 238.0C68.6 237.8 69.8 237.0 71.7 236.5C73.6 236.0 76.9 235.9 79.4 235.0C82.0 234.1 84.7 232.1 87.0 231.0C89.3 229.9 91.4 229.2 93.5 228.3C95.6 227.4 97.6 226.7 99.4 225.8C101.2 224.9 103.0 223.7 104.5 222.8C106.0 221.9 107.3 221.3 108.6 220.4C109.8 219.5 110.8 218.2 112.0 217.6C113.2 216.9 114.3 216.5 115.5 216.5C116.7 216.5 117.8 217.2 119.0 217.8C120.2 218.5 121.3 219.5 122.5 220.4C123.7 221.3 124.8 222.4 126.0 223.3C127.2 224.2 128.6 224.9 130.0 225.8C131.4 226.8 132.9 227.9 134.5 229.0C136.1 230.1 137.5 231.0 139.4 232.5C141.3 234.0 143.6 236.4 146.0 238.0C148.4 239.6 151.2 241.0 154.0 242.0C156.8 243.0 160.2 243.5 163.0 243.8C165.8 244.1 167.8 244.2 170.6 244.0C173.4 243.8 177.4 242.7 180.0 242.6C182.6 242.5 184.4 242.7 186.0 243.2C187.6 243.7 188.3 244.4 189.5 245.5C190.7 246.6 192.4 249.2 193.0 250.0"/>
<path d="M71.7 236.9C73.0 237.0 77.9 236.7 79.4 237.3C80.9 237.9 80.5 239.3 80.7 240.5C80.9 241.7 80.8 243.1 80.6 244.2C80.4 245.3 80.1 246.4 79.6 247.3C79.1 248.2 78.9 249.0 77.8 249.6C76.7 250.2 74.6 250.6 73.0 250.8C71.4 251.0 68.8 251.0 68.0 251.0"/>
<path d="M84.0 251.0C84.0 250.2 84.0 247.7 84.3 246.0C84.5 244.3 84.7 242.6 85.5 241.0C86.3 239.4 87.5 237.9 89.0 236.5C90.5 235.1 92.5 233.8 94.5 232.5C96.5 231.2 98.8 230.0 101.0 228.8C103.2 227.7 105.5 226.4 107.5 225.6C109.5 224.8 111.3 224.2 113.2 224.2C115.1 224.2 117.0 224.9 119.0 225.8C121.0 226.7 123.0 228.1 125.0 229.5C127.0 230.9 128.9 232.4 131.0 234.0C133.1 235.6 135.2 237.3 137.5 238.8C139.8 240.3 142.4 241.8 145.0 243.0C147.6 244.2 150.2 245.2 153.0 246.0C155.8 246.8 159.1 247.4 162.0 247.6C164.9 247.8 167.6 247.5 170.6 247.4C173.6 247.3 177.4 246.7 180.0 246.8C182.6 246.9 184.5 247.5 186.0 248.0C187.5 248.5 188.5 249.7 189.0 250.0"/>
<path d="M88.5 251.0C88.6 250.2 88.6 247.6 89.0 246.0C89.4 244.4 89.9 243.0 91.0 241.5C92.1 240.0 93.8 238.4 95.5 237.0C97.2 235.6 99.4 234.1 101.5 232.8C103.6 231.5 106.0 230.1 108.0 229.3C110.0 228.5 111.5 228.0 113.2 228.0C115.0 228.0 116.7 228.5 118.5 229.3C120.3 230.1 122.1 231.3 124.0 232.6C125.9 233.9 127.9 235.5 130.0 237.0C132.1 238.5 134.3 240.3 136.5 241.8C138.7 243.3 140.8 244.8 143.0 246.0C145.2 247.2 147.8 248.2 150.0 249.0C152.2 249.8 155.0 250.2 156.0 250.5"/>
<path d="M94.9 144.0C95.1 143.4 96.2 142.4 97.0 141.8C97.8 141.2 98.5 141.1 99.6 140.7C100.7 140.3 102.2 139.7 103.5 139.3C104.8 138.9 106.6 138.5 107.7 138.4C108.8 138.3 109.5 138.6 110.3 139.0C111.1 139.4 111.7 139.9 112.4 140.7C113.1 141.4 113.8 142.5 114.4 143.5C115.0 144.5 115.4 145.4 115.8 146.7C116.2 148.0 116.7 149.9 117.0 151.5C117.3 153.1 117.5 154.5 117.8 156.1C118.1 157.7 118.7 159.4 119.0 161.0C119.3 162.6 119.6 164.0 119.8 165.6C120.0 167.2 120.2 168.9 120.2 170.5C120.2 172.1 120.0 173.6 119.8 175.0C119.6 176.4 119.2 177.7 118.8 178.8C118.3 179.9 117.7 180.9 117.1 181.7C116.5 182.5 115.8 183.1 115.0 183.6C114.2 184.1 113.3 184.4 112.4 184.4C111.5 184.4 110.6 184.1 109.8 183.6C109.0 183.1 108.3 182.5 107.7 181.7C107.1 180.9 106.6 179.9 106.3 179.0C106.0 178.1 105.7 177.5 105.7 176.3C105.7 175.1 106.1 173.3 106.2 172.0C106.3 170.7 106.5 169.6 106.4 168.3C106.3 167.1 106.0 165.6 105.8 164.5C105.6 163.4 105.3 162.6 105.0 161.5C104.7 160.4 104.2 159.1 103.8 158.0C103.3 156.9 102.9 155.8 102.3 154.8C101.7 153.8 100.8 152.8 100.0 152.0C99.2 151.2 98.2 150.8 97.6 150.1C97.0 149.4 96.5 148.8 96.2 148.0C95.9 147.2 95.8 146.1 95.6 145.4C95.4 144.7 94.7 144.6 94.9 144.0Z"/>
<path d="M111.3 251.5C111.3 251.3 111.3 250.8 111.3 250.5C111.4 250.1 111.4 249.8 111.5 249.5C111.6 249.2 111.7 248.9 111.8 248.7C112.0 248.4 112.1 248.2 112.3 248.0C112.5 247.9 112.7 247.7 112.9 247.6C113.1 247.5 113.3 247.5 113.5 247.5C113.7 247.5 113.9 247.5 114.1 247.6C114.3 247.7 114.5 247.9 114.7 248.0C114.9 248.2 115.0 248.4 115.2 248.7C115.3 248.9 115.4 249.2 115.5 249.5C115.6 249.8 115.6 250.1 115.7 250.5C115.7 250.8 115.7 251.3 115.7 251.5"/>
<path d="M109.5 251.5C109.5 251.3 109.5 250.5 109.5 250.0C109.6 249.5 109.7 249.1 109.9 248.7C110.0 248.2 110.2 247.8 110.5 247.5C110.7 247.1 111.0 246.8 111.3 246.6C111.6 246.3 112.0 246.1 112.4 246.0C112.7 245.9 113.1 245.8 113.5 245.8C113.9 245.8 114.3 245.9 114.6 246.0C115.0 246.1 115.4 246.3 115.7 246.6C116.0 246.8 116.3 247.1 116.5 247.5C116.8 247.8 117.0 248.2 117.1 248.7C117.3 249.1 117.4 249.5 117.5 250.0C117.5 250.5 117.5 251.3 117.5 251.5"/>
<path d="M107.3 251.5C107.3 251.2 107.3 250.1 107.4 249.4C107.4 248.8 107.6 248.1 107.9 247.5C108.1 246.9 108.4 246.3 108.8 245.8C109.2 245.4 109.6 244.9 110.1 244.6C110.6 244.2 111.2 244.0 111.7 243.8C112.3 243.6 112.9 243.5 113.5 243.5C114.1 243.5 114.7 243.6 115.3 243.8C115.8 244.0 116.4 244.2 116.9 244.6C117.4 244.9 117.8 245.4 118.2 245.8C118.6 246.3 118.9 246.9 119.1 247.5C119.4 248.1 119.6 248.8 119.6 249.4C119.7 250.1 119.7 251.2 119.7 251.5"/>
<path d="M104.9 251.5C104.9 251.1 104.8 249.7 105.0 248.8C105.1 248.0 105.3 247.1 105.7 246.3C106.0 245.6 106.5 244.8 107.0 244.2C107.5 243.6 108.1 243.0 108.8 242.6C109.5 242.1 110.3 241.8 111.1 241.6C111.8 241.3 112.7 241.2 113.5 241.2C114.3 241.2 115.2 241.3 115.9 241.6C116.7 241.8 117.5 242.1 118.2 242.6C118.9 243.0 119.5 243.6 120.0 244.2C120.5 244.8 121.0 245.6 121.3 246.3C121.7 247.1 121.9 248.0 122.0 248.8C122.2 249.7 122.1 251.1 122.1 251.5"/>
<path d="M101.9 251.5C101.9 251.0 101.8 249.3 102.0 248.2C102.2 247.2 102.5 246.1 103.0 245.2C103.4 244.2 104.0 243.3 104.7 242.5C105.4 241.7 106.3 241.0 107.2 240.5C108.1 240.0 109.2 239.5 110.2 239.2C111.3 238.9 112.4 238.8 113.5 238.8C114.6 238.8 115.7 238.9 116.8 239.2C117.8 239.5 118.9 240.0 119.8 240.5C120.7 241.0 121.6 241.7 122.3 242.5C123.0 243.3 123.6 244.2 124.0 245.2C124.5 246.1 124.8 247.2 125.0 248.2C125.2 249.3 125.1 251.0 125.1 251.5"/>
<path d="M98.1 251.5C98.1 250.8 98.0 248.7 98.2 247.4C98.5 246.1 98.9 244.8 99.5 243.7C100.1 242.5 100.9 241.4 101.8 240.4C102.8 239.4 103.9 238.6 105.1 237.9C106.3 237.2 107.7 236.7 109.1 236.3C110.5 236.0 112.0 235.8 113.5 235.8C115.0 235.8 116.5 236.0 117.9 236.3C119.3 236.7 120.7 237.2 121.9 237.9C123.1 238.6 124.2 239.4 125.2 240.4C126.1 241.4 126.9 242.5 127.5 243.7C128.1 244.8 128.5 246.1 128.8 247.4C129.0 248.7 128.9 250.8 128.9 251.5"/>
<path d="M93.5 251.5C93.5 250.7 93.4 248.1 93.7 246.5C94.0 244.8 94.5 243.2 95.3 241.8C96.1 240.3 97.1 238.9 98.4 237.7C99.6 236.5 101.1 235.5 102.6 234.6C104.2 233.8 106.0 233.1 107.8 232.7C109.6 232.2 111.6 232.0 113.5 232.0C115.4 232.0 117.4 232.2 119.2 232.7C121.0 233.1 122.8 233.8 124.4 234.6C125.9 235.5 127.4 236.5 128.6 237.7C129.9 238.9 130.9 240.3 131.7 241.8C132.5 243.2 133.0 244.8 133.3 246.5C133.6 248.1 133.5 250.7 133.5 251.5"/>
</g>
<path d="M96 256.5L99 251.2H209.5L213.5 256.5Z" fill="#000"/>
<path d="M79 255.5l4-3M83 255.5l5-4M87.5 255.5l5.5-4.5M92 255.5l5-4" stroke="#000" stroke-width="1" fill="none"/>
<ellipse cx="112.8" cy="254" rx="3.2" ry="0.8" fill="#fff"/><ellipse cx="136" cy="254.2" rx="3.5" ry="0.7" fill="#fff"/><ellipse cx="123.5" cy="254.3" rx="2" ry="0.5" fill="#fff"/>
<path d="M172 253.6h4M181 253.4h6M192 253.8h3" stroke="#fff" stroke-width="0.7" fill="none"/>
<path d="M221.5 256C222 254 225 254 225.5 256M240 256C241 253.4 244.5 253.4 245.5 256" stroke="#000" stroke-width="1" fill="none"/>
<g stroke="#000" fill="none">
<line x1="66.5" y1="77.5" x2="250.0" y2="77.5" stroke-width="2"/>
<line x1="67.7" y1="77.5" x2="67.7" y2="257.0" stroke-width="2.8"/>
<line x1="67.0" y1="256.0" x2="250.0" y2="256.0" stroke-width="2.4"/>
<line x1="247.5" y1="77.5" x2="247.5" y2="256.0" stroke-width="1.2"/>
<line x1="249.6" y1="77.5" x2="249.6" y2="256.0" stroke-width="1" stroke="#444"/>
<line x1="141.3" y1="77.5" x2="141.3" y2="256.0" stroke-width="1"/>
<line x1="68.0" y1="197.7" x2="248.0" y2="197.7" stroke-width="1"/>
<path d="M68.0 256.0v5.6M68.0 256.0h-5.4M81.5 256.0v3.6M68.0 242.6h-3.4M89.5 256.0v3.6M68.0 234.7h-3.4M95.1 256.0v3.6M68.0 229.1h-3.4M99.5 256.0v3.6M68.0 224.8h-3.4M103.0 256.0v3.6M68.0 221.3h-3.4M106.0 256.0v3.6M68.0 218.3h-3.4M108.6 256.0v3.6M68.0 215.7h-3.4M110.9 256.0v3.6M68.0 213.4h-3.4M113.0 256.0v5.6M68.0 211.4h-5.4M126.5 256.0v3.6M68.0 198.0h-3.4M134.5 256.0v3.6M68.0 190.1h-3.4M140.1 256.0v3.6M68.0 184.5h-3.4M144.5 256.0v3.6M68.0 180.2h-3.4M148.0 256.0v3.6M68.0 176.7h-3.4M151.0 256.0v3.6M68.0 173.7h-3.4M153.6 256.0v3.6M68.0 171.1h-3.4M155.9 256.0v3.6M68.0 168.8h-3.4M158.0 256.0v5.6M68.0 166.8h-5.4M171.5 256.0v3.6M68.0 153.4h-3.4M179.5 256.0v3.6M68.0 145.5h-3.4M185.1 256.0v3.6M68.0 139.9h-3.4M189.5 256.0v3.6M68.0 135.6h-3.4M193.0 256.0v3.6M68.0 132.1h-3.4M196.0 256.0v3.6M68.0 129.1h-3.4M198.6 256.0v3.6M68.0 126.5h-3.4M200.9 256.0v3.6M68.0 124.2h-3.4M203.0 256.0v5.6M68.0 122.2h-5.4M216.5 256.0v3.6M68.0 108.8h-3.4M224.5 256.0v3.6M68.0 100.9h-3.4M230.1 256.0v3.6M68.0 95.3h-3.4M234.5 256.0v3.6M68.0 91.0h-3.4M238.0 256.0v3.6M68.0 87.5h-3.4M241.0 256.0v3.6M68.0 84.5h-3.4M243.6 256.0v3.6M68.0 81.9h-3.4M245.9 256.0v3.6M68.0 79.6h-3.4M248.0 256.0v5.6M68.0 77.6h-5.4" stroke-width="1"/>
</g>
<path d="M152 100H243.5M197 82.5V118" stroke="#000" stroke-width="2" fill="none"/>
<text x="153" y="96.3" font-size="13" stroke="#000" stroke-width="0.9" textLength="38" lengthAdjust="spacingAndGlyphs">13.4%</text>
<text x="201" y="115.2" font-size="13" stroke="#000" stroke-width="0.9" textLength="39" lengthAdjust="spacingAndGlyphs">30.4%</text>
</g>
<text y="283.2" font-size="17.3"><tspan x="54.5" textLength="20.2" lengthAdjust="spacingAndGlyphs">10</tspan><tspan x="75.5" dy="-7" font-size="12.3" textLength="7.4" lengthAdjust="spacingAndGlyphs">0</tspan></text>
<text y="263.2" font-size="17.3"><tspan x="31.8" textLength="20.2" lengthAdjust="spacingAndGlyphs">10</tspan><tspan x="52.8" dy="-7" font-size="12.3" textLength="7.4" lengthAdjust="spacingAndGlyphs">0</tspan></text>
<text y="283.2" font-size="17.3"><tspan x="98.9" textLength="20.2" lengthAdjust="spacingAndGlyphs">10</tspan><tspan x="119.9" dy="-7" font-size="12.3" textLength="7.4" lengthAdjust="spacingAndGlyphs">1</tspan></text>
<text y="217.6" font-size="17.3"><tspan x="31.8" textLength="20.2" lengthAdjust="spacingAndGlyphs">10</tspan><tspan x="52.8" dy="-7" font-size="12.3" textLength="7.4" lengthAdjust="spacingAndGlyphs">1</tspan></text>
<text y="283.2" font-size="17.3"><tspan x="143.3" textLength="20.2" lengthAdjust="spacingAndGlyphs">10</tspan><tspan x="164.3" dy="-7" font-size="12.3" textLength="7.4" lengthAdjust="spacingAndGlyphs">2</tspan></text>
<text y="172.0" font-size="17.3"><tspan x="31.8" textLength="20.2" lengthAdjust="spacingAndGlyphs">10</tspan><tspan x="52.8" dy="-7" font-size="12.3" textLength="7.4" lengthAdjust="spacingAndGlyphs">2</tspan></text>
<text y="283.2" font-size="17.3"><tspan x="187.7" textLength="20.2" lengthAdjust="spacingAndGlyphs">10</tspan><tspan x="208.7" dy="-7" font-size="12.3" textLength="7.4" lengthAdjust="spacingAndGlyphs">3</tspan></text>
<text y="126.4" font-size="17.3"><tspan x="31.8" textLength="20.2" lengthAdjust="spacingAndGlyphs">10</tspan><tspan x="52.8" dy="-7" font-size="12.3" textLength="7.4" lengthAdjust="spacingAndGlyphs">3</tspan></text>
<text y="283.2" font-size="17.3"><tspan x="232.1" textLength="20.2" lengthAdjust="spacingAndGlyphs">10</tspan><tspan x="253.1" dy="-7" font-size="12.3" textLength="7.4" lengthAdjust="spacingAndGlyphs">4</tspan></text>
<text y="80.8" font-size="17.3"><tspan x="31.8" textLength="20.2" lengthAdjust="spacingAndGlyphs">10</tspan><tspan x="52.8" dy="-7" font-size="12.3" textLength="7.4" lengthAdjust="spacingAndGlyphs">4</tspan></text>
<text transform="translate(24.9 184) rotate(-90)" font-size="22.5" textLength="41" lengthAdjust="spacingAndGlyphs">DX5</text>
<text x="128.3" y="305.2" font-size="21.5" textLength="54" lengthAdjust="spacingAndGlyphs">CD19</text>
<g id="p2">
<rect x="327.0" y="77.5" width="179.0" height="178.5" fill="#fff"/>
<path d="M374.5 171.2h1.15M358.6 206.8h1.15M357.8 188.6h1.15M381.9 184.6h1.15M356.8 148.2h1.15M376.0 157.9h1.15M352.9 172.9h1.15M381.4 173.7h1.15M380.7 181.1h1.15M391.1 161.1h1.15M367.0 141.4h1.15M364.0 145.5h1.15M344.6 169.1h1.15M380.1 107.3h1.15M348.5 133.2h1.15M375.0 193.2h1.15M374.3 170.3h1.15M356.7 181.7h1.15M355.1 168.9h1.15M375.5 168.2h1.15M388.4 109.4h1.15M343.5 206.4h1.15M360.0 161.6h1.15M360.2 174.1h1.15M366.6 187.0h1.15M335.0 172.5h1.15M354.9 182.5h1.15M352.9 178.0h1.15M373.5 174.7h1.15M372.8 196.0h1.15M352.2 174.5h1.15M384.8 150.6h1.15M358.5 206.0h1.15M369.1 184.9h1.15M363.5 203.8h1.15M371.9 145.6h1.15M375.0 165.3h1.15M364.9 193.2h1.15M371.4 158.4h1.15M350.4 162.3h1.15M366.9 139.5h1.15M358.9 177.8h1.15M349.4 166.1h1.15M373.0 180.9h1.15M342.0 177.0h1.15M353.4 209.2h1.15M374.8 140.4h1.15M384.2 161.1h1.15M367.3 178.9h1.15M348.3 211.7h1.15M371.5 144.5h1.15M347.2 190.0h1.15M388.4 188.3h1.15M374.1 163.2h1.15M386.6 192.5h1.15M356.3 157.3h1.15M334.6 211.1h1.15M352.9 150.4h1.15M394.9 203.8h1.15M381.1 172.8h1.15M368.3 180.4h1.15M375.9 157.7h1.15M360.6 147.1h1.15M353.7 217.0h1.15M358.3 153.1h1.15M386.4 170.8h1.15M368.4 197.5h1.15M387.2 183.3h1.15M393.9 155.6h1.15M360.7 196.9h1.15M379.5 123.4h1.15M364.1 197.0h1.15M343.8 182.3h1.15M355.5 127.8h1.15M365.3 174.3h1.15M362.4 157.0h1.15M382.8 144.5h1.15M359.1 133.7h1.15M387.7 131.6h1.15M396.6 148.3h1.15M352.0 216.2h1.15M348.2 162.2h1.15M378.0 186.5h1.15M374.4 185.8h1.15M394.2 127.4h1.15M358.0 202.8h1.15M345.6 155.3h1.15M377.2 178.8h1.15M366.4 149.6h1.15M355.0 146.6h1.15M348.6 180.4h1.15M375.8 147.9h1.15M371.2 136.2h1.15M375.0 166.6h1.15M367.9 182.3h1.15M389.9 182.8h1.15M358.6 181.2h1.15M375.4 192.6h1.15M385.9 151.6h1.15M349.9 195.4h1.15M350.9 190.2h1.15M345.5 151.5h1.15M375.3 167.9h1.15M380.2 183.9h1.15M374.4 193.3h1.15M343.9 211.2h1.15M346.3 149.7h1.15M330.3 176.6h1.15M375.5 165.1h1.15M349.8 110.4h1.15M378.0 141.5h1.15M363.1 183.9h1.15M368.0 189.0h1.15M395.7 198.1h1.15M352.7 175.3h1.15M365.4 150.5h1.15M379.6 164.8h1.15M372.8 196.1h1.15M394.7 185.8h1.15M357.2 181.5h1.15M359.0 163.9h1.15M341.3 167.9h1.15M336.7 206.6h1.15M377.5 164.3h1.15M369.6 180.3h1.15M365.0 185.5h1.15M366.2 190.4h1.15M356.0 178.8h1.15M396.2 152.1h1.15M356.1 205.4h1.15M374.2 181.4h1.15M372.1 164.4h1.15M360.6 192.3h1.15M371.9 196.3h1.15M385.0 153.9h1.15M394.7 159.7h1.15M385.5 153.9h1.15M374.9 181.7h1.15M392.2 111.6h1.15M338.0 206.8h1.15M381.3 161.5h1.15M370.7 124.0h1.15M363.0 157.0h1.15M383.5 184.7h1.15M358.6 200.2h1.15M365.4 191.0h1.15M382.0 151.9h1.15M393.0 140.4h1.15M371.8 196.2h1.15M365.9 205.5h1.15M370.5 151.2h1.15M368.5 170.6h1.15M365.7 179.9h1.15M375.0 153.7h1.15M380.1 129.6h1.15M380.0 192.3h1.15M376.0 132.2h1.15M361.1 183.7h1.15M344.3 178.2h1.15M386.7 142.3h1.15M349.4 163.4h1.15M364.8 169.6h1.15M389.5 186.2h1.15M338.1 201.5h1.15M371.5 163.0h1.15M349.7 205.8h1.15M366.9 124.7h1.15M335.2 195.0h1.15M389.1 155.3h1.15M345.2 221.6h1.15M354.8 203.1h1.15M368.4 168.6h1.15M369.7 188.3h1.15M344.5 178.0h1.15M375.1 129.0h1.15M380.1 178.0h1.15M352.3 144.5h1.15M349.2 204.8h1.15M354.9 183.8h1.15M362.0 205.3h1.15M389.9 205.9h1.15M397.0 151.8h1.15M373.5 158.5h1.15M369.9 171.5h1.15M371.1 199.8h1.15M365.7 193.9h1.15M381.6 133.0h1.15M377.3 116.1h1.15M351.7 185.1h1.15M374.2 142.2h1.15M342.3 195.4h1.15M389.9 137.6h1.15M388.6 191.9h1.15M364.1 179.0h1.15M368.5 179.5h1.15M365.8 156.0h1.15M356.5 139.6h1.15M379.5 185.7h1.15M376.5 149.3h1.15M362.7 209.3h1.15M395.1 186.3h1.15M347.9 165.7h1.15M359.3 167.2h1.15M353.4 198.4h1.15M374.0 138.5h1.15M378.3 184.9h1.15M352.2 182.2h1.15M374.5 156.5h1.15M371.1 164.7h1.15M335.5 136.5h1.15M358.9 162.4h1.15M361.9 181.9h1.15M365.3 127.3h1.15M367.8 172.2h1.15M355.4 201.3h1.15M375.5 169.2h1.15M354.7 187.7h1.15M355.9 152.6h1.15M360.8 207.3h1.15M364.3 173.7h1.15M363.5 196.7h1.15M366.3 203.8h1.15M366.4 204.3h1.15M364.0 156.0h1.15M375.6 172.5h1.15M360.8 154.9h1.15M347.1 214.1h1.15M377.2 166.6h1.15M363.3 156.6h1.15M335.9 150.5h1.15M346.0 130.0h1.15M361.6 196.8h1.15M353.5 168.6h1.15M356.2 172.6h1.15M378.3 190.1h1.15M390.9 200.6h1.15M381.8 147.5h1.15M354.2 181.5h1.15M339.7 170.6h1.15M363.1 188.6h1.15M330.1 185.4h1.15M358.4 191.6h1.15M366.0 150.2h1.15M362.6 181.7h1.15M386.1 173.2h1.15M363.2 187.9h1.15M375.5 191.3h1.15M388.3 192.4h1.15M348.9 129.5h1.15M368.9 165.6h1.15M372.7 195.0h1.15M388.4 139.9h1.15M380.7 184.6h1.15M332.2 207.0h1.15M376.3 155.0h1.15M343.9 205.8h1.15M354.6 160.1h1.15M384.4 170.3h1.15M341.5 194.2h1.15M376.2 154.2h1.15M332.4 195.6h1.15M371.9 150.9h1.15M370.3 161.3h1.15M351.6 200.3h1.15M368.1 180.1h1.15M348.1 157.3h1.15M363.6 160.6h1.15M373.7 179.9h1.15M364.5 173.7h1.15M350.6 208.0h1.15M359.1 185.3h1.15M381.6 171.0h1.15M395.0 183.1h1.15M381.8 159.8h1.15M347.5 162.9h1.15M364.0 140.7h1.15M378.2 141.4h1.15M368.8 171.6h1.15M332.4 183.5h1.15M343.0 179.7h1.15M330.3 162.5h1.15M381.3 187.3h1.15M379.9 172.9h1.15M366.1 198.0h1.15M347.9 147.0h1.15M350.0 186.5h1.15M356.6 200.8h1.15M373.7 177.8h1.15M382.7 171.0h1.15M366.2 188.3h1.15M380.7 153.9h1.15M360.5 155.7h1.15M377.4 191.1h1.15M371.2 138.8h1.15M354.7 134.5h1.15M345.9 156.1h1.15M372.8 193.9h1.15M338.9 198.1h1.15M381.9 132.7h1.15M375.9 185.9h1.15M373.3 156.3h1.15M391.3 181.7h1.15M358.6 123.2h1.15M363.9 136.6h1.15M361.1 142.7h1.15M365.4 182.4h1.15M365.7 169.4h1.15M370.3 134.5h1.15M385.2 142.4h1.15M370.0 151.7h1.15M390.0 161.5h1.15M353.0 167.2h1.15M382.3 140.7h1.15M346.9 162.3h1.15M365.9 121.4h1.15M361.0 197.6h1.15M349.9 169.5h1.15M357.3 190.6h1.15M363.3 165.7h1.15M371.6 189.3h1.15M371.0 141.3h1.15M355.3 124.3h1.15M358.2 184.2h1.15M391.1 185.4h1.15M369.1 186.0h1.15M343.3 167.4h1.15M370.3 200.0h1.15M356.9 165.1h1.15M360.7 193.8h1.15M370.7 150.1h1.15M381.5 163.2h1.15M372.1 150.4h1.15M378.4 173.8h1.15M358.5 203.4h1.15M375.2 162.2h1.15M366.0 168.2h1.15M378.5 107.4h1.15M394.6 163.0h1.15M355.8 190.7h1.15M393.3 156.5h1.15M382.3 162.6h1.15M385.9 192.9h1.15M391.9 175.8h1.15M381.8 138.9h1.15M352.3 194.3h1.15M348.8 145.4h1.15M358.1 214.6h1.15M374.5 169.1h1.15M379.4 173.2h1.15M372.5 177.8h1.15M346.0 203.7h1.15M370.0 159.7h1.15M371.2 155.7h1.15M367.7 166.7h1.15M373.8 149.5h1.15M366.6 165.4h1.15M352.2 176.0h1.15M373.5 174.6h1.15M384.1 169.4h1.15M379.5 124.2h1.15M348.5 155.4h1.15M387.1 169.9h1.15M376.0 143.8h1.15M368.6 157.4h1.15M372.7 170.5h1.15M360.7 100.6h1.15M372.1 109.1h1.15M360.0 130.1h1.15M361.9 189.7h1.15M363.2 185.7h1.15M383.9 158.1h1.15M377.1 173.9h1.15M346.7 186.9h1.15M350.7 210.4h1.15M368.6 183.4h1.15M385.1 151.9h1.15M380.5 191.4h1.15M335.5 178.5h1.15M352.8 158.9h1.15M341.4 126.4h1.15M361.3 189.7h1.15M360.1 172.1h1.15M358.9 181.8h1.15M382.3 140.4h1.15M350.9 163.6h1.15M392.2 161.9h1.15M347.7 118.8h1.15M355.3 164.9h1.15M350.0 154.7h1.15M385.8 160.6h1.15M351.1 196.8h1.15M373.1 176.1h1.15M388.2 138.6h1.15M343.8 168.7h1.15M391.9 202.5h1.15M389.6 147.0h1.15M390.5 205.5h1.15M360.9 186.3h1.15M357.2 154.6h1.15M395.2 187.5h1.15M357.4 171.3h1.15M362.2 173.3h1.15M363.8 164.8h1.15M347.4 177.3h1.15M355.4 170.2h1.15M374.7 193.8h1.15M377.9 174.3h1.15M385.6 182.2h1.15M345.7 160.7h1.15M394.6 126.7h1.15M399.4 180.9h1.15M372.9 162.4h1.15M331.1 157.8h1.15M348.6 199.2h1.15M370.7 147.6h1.15M389.3 205.0h1.15M347.6 180.4h1.15M346.0 192.1h1.15M380.7 189.6h1.15M340.7 162.7h1.15M366.9 170.1h1.15M384.9 165.0h1.15M337.0 110.4h1.15M377.3 151.8h1.15M359.9 176.0h1.15M343.8 139.2h1.15M357.6 171.1h1.15M374.7 163.2h1.15M370.3 164.5h1.15M379.5 160.8h1.15M360.7 134.2h1.15M355.5 130.3h1.15M346.5 150.1h1.15M355.6 191.2h1.15M363.7 166.6h1.15M352.3 168.4h1.15M362.9 151.5h1.15M393.6 192.0h1.15M366.2 186.4h1.15M359.7 175.7h1.15M389.0 191.0h1.15M364.2 179.7h1.15M349.5 166.5h1.15M361.9 169.0h1.15M392.7 177.6h1.15M389.3 176.5h1.15M342.8 214.5h1.15M359.6 172.9h1.15M360.4 196.6h1.15M353.2 207.0h1.15M359.2 196.8h1.15M348.1 221.2h1.15M397.4 168.4h1.15M370.2 146.7h1.15M365.6 131.6h1.15M381.6 174.3h1.15M389.4 176.5h1.15M365.0 150.7h1.15M380.1 172.6h1.15M348.2 130.3h1.15M385.7 173.2h1.15M367.8 159.5h1.15M359.8 176.0h1.15M372.5 139.4h1.15M335.7 178.5h1.15M388.7 156.3h1.15M345.2 193.0h1.15M358.2 176.2h1.15M397.9 176.4h1.15M392.3 152.2h1.15M337.2 164.4h1.15M362.3 197.2h1.15M376.8 115.2h1.15M349.5 162.8h1.15M356.3 156.3h1.15M363.3 181.2h1.15M342.8 147.6h1.15M353.1 213.3h1.15M366.0 130.6h1.15M340.9 138.7h1.15M376.8 177.8h1.15M356.8 186.7h1.15M333.8 163.6h1.15M382.7 147.9h1.15M360.8 109.5h1.15M363.0 135.8h1.15M370.1 161.4h1.15M357.1 165.9h1.15M361.8 176.1h1.15M392.4 169.5h1.15M375.2 148.2h1.15M359.2 141.5h1.15M378.0 189.7h1.15M353.3 110.3h1.15M349.7 188.3h1.15M391.1 146.0h1.15M359.2 142.7h1.15M375.2 151.7h1.15M398.3 194.0h1.15M365.6 163.6h1.15M386.6 163.8h1.15M362.4 179.2h1.15M363.1 138.4h1.15M353.3 170.7h1.15M380.4 188.3h1.15M372.7 130.6h1.15M370.9 160.1h1.15M352.9 194.3h1.15M390.8 181.6h1.15M369.8 162.9h1.15M395.0 156.8h1.15M364.1 186.1h1.15M362.1 146.6h1.15M388.2 175.2h1.15M357.3 158.1h1.15M385.0 140.8h1.15M367.8 185.7h1.15M369.1 145.7h1.15M377.5 173.7h1.15M343.9 136.7h1.15M362.8 203.9h1.15M368.8 181.4h1.15M385.7 168.9h1.15M369.7 173.5h1.15M385.0 155.7h1.15M376.1 153.7h1.15M356.1 190.3h1.15M370.8 182.5h1.15M378.5 178.1h1.15M357.9 142.9h1.15M382.3 187.5h1.15M381.9 159.0h1.15M361.4 157.6h1.15M355.9 147.1h1.15M364.2 170.8h1.15M370.6 200.3h1.15M354.4 173.0h1.15M354.9 200.8h1.15M354.2 165.0h1.15M356.4 208.2h1.15M349.3 141.1h1.15M363.1 164.9h1.15M354.1 209.9h1.15M360.4 112.5h1.15M366.3 135.8h1.15M358.7 160.8h1.15M354.5 163.0h1.15M363.0 194.4h1.15M361.9 209.8h1.15M398.1 199.3h1.15M360.6 138.5h1.15M392.0 148.9h1.15M352.2 179.8h1.15M354.1 196.0h1.15M370.9 169.5h1.15M392.6 210.0h1.15M378.5 155.3h1.15M342.0 155.5h1.15M389.7 162.1h1.15M397.1 136.9h1.15M397.4 129.4h1.15M360.6 180.2h1.15M371.7 116.7h1.15M393.8 171.0h1.15M340.9 142.2h1.15M393.0 156.0h1.15M334.0 139.3h1.15M362.6 186.4h1.15M347.8 127.4h1.15M361.3 126.5h1.15M368.0 152.8h1.15M388.8 126.9h1.15M365.8 138.5h1.15M337.9 120.8h1.15M365.1 180.7h1.15M376.6 113.4h1.15M395.0 136.2h1.15M340.1 202.5h1.15M334.0 183.5h1.15M337.6 164.9h1.15M337.0 119.9h1.15M384.3 123.3h1.15M338.7 140.7h1.15M345.8 135.5h1.15M370.7 105.5h1.15M337.3 219.6h1.15M371.3 192.7h1.15M397.2 126.7h1.15M354.1 162.7h1.15M371.7 166.1h1.15M345.9 143.1h1.15M376.2 113.4h1.15M334.3 156.7h1.15M390.5 126.9h1.15M365.1 129.9h1.15M336.1 179.9h1.15M392.3 154.9h1.15M393.5 144.3h1.15M340.7 194.6h1.15M348.1 153.1h1.15M338.3 215.3h1.15M348.7 153.5h1.15M388.5 154.5h1.15M369.2 176.9h1.15M384.4 159.6h1.15M391.2 132.4h1.15M399.0 105.4h1.15M339.4 115.2h1.15M357.6 138.3h1.15M388.5 178.3h1.15M342.9 175.6h1.15M370.9 110.0h1.15M370.7 127.2h1.15M392.2 150.5h1.15M368.0 143.3h1.15M355.3 161.9h1.15M346.3 154.4h1.15M348.4 223.2h1.15M394.9 121.9h1.15M391.9 187.0h1.15M395.2 137.7h1.15M393.3 201.0h1.15M376.7 161.3h1.15M340.7 107.4h1.15M332.6 215.4h1.15M337.5 157.2h1.15M332.5 191.1h1.15M339.5 212.0h1.15M393.8 190.9h1.15M378.0 157.6h1.15M342.5 127.8h1.15M367.5 112.8h1.15M363.7 141.8h1.15M333.6 154.0h1.15M388.9 195.6h1.15M378.8 141.4h1.15M340.2 199.5h1.15M334.1 161.3h1.15M353.7 127.8h1.15M331.6 141.5h1.15M368.9 166.1h1.15M386.2 183.2h1.15M396.8 132.0h1.15M349.7 147.6h1.15M338.3 138.8h1.15M363.8 152.2h1.15M348.9 200.4h1.15M366.9 176.2h1.15M351.5 209.8h1.15M364.2 199.3h1.15M384.1 140.0h1.15M370.4 160.1h1.15M339.7 151.5h1.15M396.2 145.9h1.15M337.3 189.2h1.15M361.8 179.7h1.15M337.1 169.0h1.15M360.1 175.0h1.15M361.9 172.6h1.15M328.4 127.1h1.15M343.1 151.1h1.15M365.7 129.0h1.15M352.1 191.3h1.15M378.0 145.5h1.15M337.8 106.1h1.15M384.9 191.1h1.15M371.1 154.7h1.15M331.4 159.6h1.15M336.0 140.5h1.15M382.7 176.7h1.15M391.9 210.7h1.15M338.9 195.9h1.15M373.2 172.2h1.15M336.7 165.9h1.15M392.7 192.5h1.15M394.5 200.6h1.15M332.7 153.7h1.15M388.4 193.4h1.15M363.0 160.4h1.15M356.1 149.6h1.15M353.3 162.4h1.15M373.1 175.2h1.15M363.0 168.5h1.15M349.3 170.0h1.15M349.4 178.6h1.15M349.8 156.5h1.15M331.5 146.2h1.15M360.4 180.4h1.15M345.3 161.2h1.15M363.8 180.6h1.15M337.6 193.7h1.15M347.0 172.7h1.15M344.6 167.5h1.15M356.3 213.0h1.15M365.4 199.1h1.15M346.4 166.5h1.15M365.8 142.5h1.15M351.7 188.4h1.15M369.6 192.4h1.15M334.5 131.0h1.15M367.7 161.1h1.15M390.4 210.2h1.15M369.7 159.8h1.15M336.0 163.8h1.15M382.6 187.2h1.15M334.8 204.7h1.15M394.4 196.5h1.15M340.3 215.2h1.15M338.3 106.0h1.15M352.8 198.8h1.15M355.1 160.6h1.15M377.1 189.4h1.15M374.3 121.2h1.15M373.1 177.6h1.15M397.5 136.1h1.15M361.8 139.9h1.15M353.2 123.3h1.15M343.2 225.8h1.15M374.4 172.2h1.15M336.7 182.5h1.15M344.8 218.3h1.15M374.3 110.1h1.15M376.7 130.8h1.15M354.8 187.7h1.15M391.9 153.5h1.15M396.1 180.8h1.15M386.7 113.2h1.15M389.0 147.1h1.15M388.7 147.4h1.15M387.6 145.0h1.15M367.7 181.2h1.15M358.9 183.3h1.15M337.1 191.9h1.15M392.0 191.9h1.15M365.2 175.6h1.15M393.0 108.0h1.15M333.2 170.3h1.15M338.4 158.7h1.15M349.9 149.3h1.15M343.7 153.2h1.15M398.1 121.4h1.15M384.8 161.0h1.15M377.4 172.4h1.15M398.8 110.5h1.15M386.7 185.0h1.15M397.4 110.6h1.15M381.4 113.0h1.15M386.5 187.2h1.15M355.2 205.4h1.15M393.4 132.4h1.15M345.8 205.9h1.15M382.0 157.3h1.15M370.5 151.2h1.15M389.9 196.5h1.15M353.7 117.1h1.15M392.7 198.7h1.15M376.8 188.8h1.15M347.3 173.2h1.15M328.2 143.9h1.15M341.2 117.7h1.15M359.6 143.3h1.15M383.9 183.4h1.15M341.3 159.8h1.15M333.1 195.1h1.15M333.1 205.3h1.15M371.3 134.6h1.15M390.6 152.0h1.15M329.7 149.7h1.15M346.8 191.6h1.15M351.7 209.0h1.15M348.0 214.8h1.15M394.4 171.2h1.15M330.5 201.8h1.15M389.2 120.6h1.15M334.6 143.5h1.15M348.7 123.4h1.15M398.5 166.4h1.15M395.4 136.9h1.15M337.2 139.0h1.15M386.5 144.5h1.15M352.9 212.0h1.15M371.5 153.1h1.15M372.1 165.1h1.15M377.0 125.7h1.15M379.7 133.2h1.15M334.8 140.8h1.15M355.5 166.6h1.15M336.4 182.6h1.15M362.3 207.1h1.15M385.8 179.1h1.15M409.2 131.1h1.15M419.7 245.7h1.15M420.8 130.6h1.15M402.4 161.0h1.15M402.0 153.3h1.15M401.3 196.2h1.15M417.0 163.6h1.15M414.9 232.7h1.15M407.3 232.3h1.15M402.8 199.5h1.15M408.8 120.5h1.15M435.2 153.9h1.15M406.3 222.8h1.15M405.7 136.3h1.15M437.1 233.0h1.15M405.9 162.1h1.15M400.5 160.7h1.15M431.7 218.3h1.15M401.8 204.4h1.15M401.2 184.0h1.15M425.0 123.5h1.15M401.3 178.4h1.15M413.4 229.6h1.15M406.6 195.2h1.15M406.7 207.5h1.15M431.3 205.8h1.15M402.5 150.2h1.15M405.9 206.8h1.15M413.1 155.5h1.15M402.2 131.7h1.15M411.9 123.9h1.15M400.6 177.3h1.15M403.0 165.6h1.15M401.4 137.3h1.15M402.2 223.1h1.15M410.4 210.9h1.15M412.4 146.2h1.15M428.2 189.1h1.15M404.7 200.9h1.15M419.5 206.5h1.15M462.4 242.9h1.15M412.6 227.7h1.15M413.3 214.8h1.15M405.9 215.2h1.15M412.2 232.0h1.15M418.7 203.2h1.15M413.0 239.9h1.15M409.8 200.9h1.15M448.4 220.8h1.15M401.4 214.0h1.15M409.8 215.2h1.15M417.2 218.5h1.15M409.5 221.0h1.15M420.6 227.6h1.15M402.8 204.8h1.15M416.5 245.3h1.15M401.7 217.4h1.15M418.0 236.8h1.15M411.5 235.0h1.15M427.7 229.5h1.15M407.2 210.6h1.15M426.3 218.5h1.15M401.7 219.8h1.15M401.5 210.5h1.15M401.3 208.0h1.15M405.8 203.9h1.15M422.4 229.3h1.15M423.9 223.8h1.15M411.6 201.4h1.15M436.3 216.0h1.15M414.4 243.3h1.15M407.8 217.6h1.15M419.7 241.0h1.15M432.3 220.6h1.15M406.4 225.7h1.15M412.7 234.3h1.15M424.0 232.1h1.15M420.4 242.7h1.15M402.4 220.4h1.15M425.9 220.0h1.15M403.3 201.9h1.15M416.9 201.5h1.15M406.5 223.4h1.15M433.6 162.2h1.15M478.8 101.4h1.15M446.0 195.5h1.15M469.6 178.9h1.15M442.7 146.1h1.15M494.7 166.2h1.15M443.1 164.4h1.15M429.2 180.3h1.15M395.9 91.7h1.15M330.3 95.2h1.15M343.8 80.6h1.15M349.5 89.6h1.15M330.2 97.8h1.15M358.5 80.2h1.15" stroke="#000" stroke-width="1.15" stroke-opacity="0.88" fill="none"/>
<g stroke="#000" stroke-width="1.25" fill="none" stroke-linejoin="round">
<path d="M327.0 226.8C327.5 226.8 328.7 226.4 329.9 226.5C331.1 226.6 332.6 227.2 334.0 227.3C335.4 227.5 336.9 227.7 338.6 227.4C340.3 227.1 342.3 226.3 344.0 225.6C345.7 224.9 347.4 224.0 349.0 223.0C350.6 222.0 352.1 221.0 353.5 219.8C354.9 218.7 356.4 217.4 357.6 216.1C358.9 214.8 359.9 213.4 361.0 212.0C362.1 210.6 363.3 208.9 364.5 207.5C365.7 206.1 366.9 205.0 368.0 203.8C369.1 202.7 370.2 201.8 371.4 200.6C372.6 199.4 373.8 197.8 375.0 196.5C376.2 195.2 377.5 193.5 378.4 192.8C379.3 192.2 379.8 192.3 380.5 192.6C381.2 192.9 381.9 193.6 382.7 194.5C383.5 195.4 384.6 196.7 385.5 197.8C386.4 199.0 387.3 200.0 387.9 201.4C388.5 202.8 388.9 204.4 389.3 206.0C389.7 207.6 389.9 209.6 390.5 211.0C391.1 212.4 392.1 213.3 393.0 214.3C393.9 215.3 394.8 216.1 395.7 217.0C396.6 217.9 397.4 218.6 398.3 219.5C399.2 220.4 400.0 221.1 400.9 222.2C401.8 223.2 402.6 224.5 403.5 225.8C404.4 227.1 405.3 228.6 406.0 230.0C406.7 231.4 407.2 232.9 407.8 234.3C408.4 235.7 408.9 237.4 409.5 238.6C410.1 239.8 410.6 240.7 411.3 241.5C412.0 242.3 412.9 242.8 413.8 243.5C414.7 244.2 415.5 245.1 416.5 245.8C417.5 246.5 418.4 247.1 419.6 247.5C420.9 247.9 422.4 248.2 424.0 248.4C425.6 248.6 426.9 248.7 429.2 248.8C431.5 248.9 434.8 249.1 438.0 249.2C441.2 249.3 445.7 249.3 448.5 249.4C451.3 249.5 453.1 249.5 455.0 249.6C456.9 249.7 458.7 249.8 460.0 250.0C461.3 250.2 462.0 250.4 463.0 250.8C464.0 251.2 465.0 251.8 465.8 252.3C466.6 252.8 467.2 253.3 467.8 253.8C468.4 254.3 469.3 255.0 469.6 255.2"/>
<path d="M327.0 232.5C327.5 232.9 329.1 234.3 330.0 235.2C330.9 236.1 331.6 237.1 332.5 238.0C333.4 238.9 334.1 240.3 335.1 240.4C336.1 240.5 337.4 239.3 338.5 238.6C339.6 237.9 340.8 236.9 342.0 236.0C343.2 235.1 344.6 234.0 346.0 233.0C347.4 232.0 349.0 231.1 350.7 230.0C352.4 228.9 354.3 227.5 356.0 226.5C357.7 225.5 359.3 224.6 361.0 223.9C362.7 223.2 364.3 222.7 366.0 222.3C367.7 221.9 369.7 221.6 371.4 221.3C373.1 221.0 374.6 220.7 376.0 220.6C377.4 220.5 378.9 220.3 380.1 220.5C381.4 220.7 382.4 221.2 383.5 221.8C384.6 222.4 385.8 223.1 387.0 223.9C388.2 224.7 389.4 225.8 390.5 226.8C391.6 227.8 392.8 228.9 393.9 230.0C394.9 231.1 395.9 232.2 396.8 233.3C397.7 234.5 398.5 235.7 399.1 236.9C399.7 238.1 400.0 239.2 400.3 240.3C400.6 241.5 400.6 242.7 400.9 243.8C401.2 244.9 401.7 246.0 402.3 247.0C402.9 248.0 403.2 249.2 404.3 249.9C405.4 250.6 407.1 251.0 409.0 251.3C410.9 251.6 413.1 251.5 415.8 251.6C418.5 251.7 421.6 251.7 425.4 251.8C429.2 251.9 434.9 252.0 438.8 252.3C442.7 252.6 446.9 253.4 448.5 253.6"/>
<path d="M327.0 251.2C327.5 251.3 328.8 251.4 329.9 251.6C331.0 251.8 332.4 252.4 333.5 252.6C334.6 252.8 335.8 252.7 336.8 252.5C337.8 252.3 338.8 251.8 339.5 251.2C340.2 250.6 340.9 249.8 341.2 249.0C341.5 248.2 341.3 247.2 341.2 246.3C341.1 245.4 340.1 244.8 340.3 243.8C340.5 242.8 341.4 241.5 342.3 240.3C343.2 239.2 344.3 238.0 345.5 236.9C346.7 235.8 348.1 234.9 349.5 234.0C350.9 233.1 352.5 232.5 354.1 231.7C355.7 230.9 357.3 229.9 359.0 229.0C360.7 228.1 362.8 227.2 364.5 226.5C366.2 225.8 367.8 225.4 369.5 225.0C371.2 224.6 373.4 224.0 374.9 223.9C376.4 223.8 377.4 224.0 378.5 224.3C379.6 224.6 380.7 225.1 381.8 225.7C382.9 226.2 384.2 226.9 385.3 227.6C386.4 228.3 387.7 229.1 388.7 230.0C389.7 230.9 390.6 232.0 391.5 233.2C392.4 234.3 393.2 235.6 393.9 236.9C394.6 238.2 395.1 239.6 395.5 241.0C395.9 242.4 396.2 244.0 396.5 245.6C396.8 247.2 397.2 249.8 397.4 250.7"/>
<path d="M413.8 243.5C413.6 244.0 412.0 245.5 412.3 246.5C412.6 247.5 414.5 248.7 415.8 249.4C417.1 250.1 419.3 250.4 420.0 250.6"/>
<path d="M370.5 250.8C370.5 250.7 370.5 250.4 370.5 250.2C370.5 250.0 370.6 249.8 370.6 249.6C370.7 249.4 370.8 249.2 370.9 249.1C371.0 249.0 371.1 248.8 371.3 248.7C371.4 248.6 371.6 248.5 371.7 248.5C371.9 248.4 372.1 248.4 372.2 248.4C372.4 248.4 372.6 248.4 372.7 248.5C372.9 248.5 373.1 248.6 373.2 248.7C373.4 248.8 373.5 249.0 373.6 249.1C373.7 249.2 373.8 249.4 373.9 249.6C374.0 249.8 374.0 250.0 374.1 250.2C374.1 250.4 374.1 250.7 374.1 250.8"/>
<path d="M368.7 250.8C368.7 250.6 368.7 250.1 368.7 249.8C368.7 249.5 368.8 249.1 369.0 248.9C369.1 248.6 369.3 248.3 369.5 248.0C369.7 247.8 369.9 247.6 370.2 247.4C370.5 247.3 370.8 247.1 371.1 247.0C371.5 246.9 371.8 246.9 372.2 246.9C372.5 246.9 372.9 246.9 373.2 247.0C373.5 247.1 373.8 247.3 374.1 247.4C374.4 247.6 374.7 247.8 374.9 248.0C375.2 248.3 375.4 248.6 375.5 248.9C375.7 249.1 375.8 249.5 375.8 249.8C375.9 250.1 375.9 250.6 375.9 250.8"/>
<path d="M366.7 250.8C366.7 250.6 366.6 249.8 366.7 249.4C366.8 248.9 366.9 248.4 367.1 248.0C367.3 247.6 367.6 247.2 367.9 246.8C368.2 246.5 368.6 246.2 369.1 246.0C369.5 245.7 370.0 245.5 370.5 245.4C371.0 245.3 371.5 245.2 372.1 245.2C372.6 245.2 373.2 245.3 373.7 245.4C374.2 245.5 374.7 245.7 375.1 246.0C375.6 246.2 376.0 246.5 376.4 246.8C376.7 247.2 377.0 247.6 377.3 248.0C377.5 248.4 377.7 248.9 377.8 249.4C377.9 249.8 377.9 250.6 377.9 250.8"/>
<path d="M364.3 250.8C364.3 250.5 364.2 249.5 364.3 248.9C364.4 248.2 364.6 247.6 364.9 247.1C365.2 246.5 365.5 246.0 366.0 245.5C366.5 245.0 367.1 244.6 367.7 244.3C368.3 244.0 369.0 243.7 369.7 243.6C370.4 243.4 371.2 243.3 372.0 243.3C372.7 243.3 373.5 243.4 374.3 243.6C375.0 243.7 375.7 244.0 376.4 244.3C377.0 244.6 377.6 245.0 378.1 245.5C378.6 246.0 379.1 246.5 379.4 247.1C379.8 247.6 380.0 248.2 380.1 248.9C380.3 249.5 380.3 250.5 380.3 250.8"/>
<path d="M361.7 250.8C361.7 250.4 361.6 249.1 361.7 248.3C361.8 247.5 362.1 246.7 362.4 246.0C362.8 245.3 363.4 244.6 364.0 244.0C364.6 243.4 365.4 242.9 366.2 242.5C367.0 242.1 367.9 241.7 368.9 241.5C369.8 241.3 370.9 241.2 371.9 241.2C372.9 241.2 373.9 241.3 374.9 241.5C375.9 241.7 376.8 242.1 377.7 242.5C378.5 242.9 379.4 243.4 380.0 244.0C380.7 244.6 381.3 245.3 381.7 246.0C382.2 246.7 382.5 247.5 382.7 248.3C382.9 249.1 382.9 250.4 382.9 250.8"/>
<path d="M358.9 250.8C358.9 250.3 358.7 248.7 358.9 247.7C359.0 246.8 359.4 245.8 359.8 244.9C360.3 244.0 361.0 243.2 361.8 242.5C362.6 241.7 363.5 241.1 364.6 240.6C365.6 240.1 366.8 239.7 368.0 239.4C369.2 239.1 370.5 239.0 371.8 239.0C373.0 239.0 374.4 239.1 375.6 239.4C376.8 239.7 378.0 240.1 379.1 240.6C380.2 241.1 381.2 241.7 382.1 242.5C382.9 243.2 383.7 244.0 384.2 244.9C384.8 245.8 385.2 246.8 385.4 247.7C385.7 248.7 385.7 250.3 385.7 250.8"/>
<path d="M355.9 250.8C355.9 250.2 355.7 248.4 355.9 247.2C356.1 246.0 356.5 244.9 357.1 243.9C357.6 242.8 358.5 241.8 359.4 241.0C360.4 240.1 361.6 239.4 362.8 238.8C364.1 238.2 365.5 237.7 367.0 237.4C368.5 237.1 370.1 236.9 371.6 236.9C373.2 236.9 374.8 237.1 376.3 237.4C377.8 237.7 379.3 238.2 380.6 238.8C382.0 239.4 383.2 240.1 384.3 241.0C385.3 241.8 386.2 242.8 386.9 243.9C387.6 244.9 388.1 246.0 388.4 247.2C388.7 248.4 388.6 250.2 388.7 250.8"/>
<path d="M352.7 250.8C352.7 250.1 352.4 247.9 352.7 246.5C352.9 245.2 353.4 243.8 354.1 242.6C354.8 241.3 355.8 240.1 356.9 239.1C358.1 238.1 359.5 237.2 361.0 236.5C362.5 235.8 364.2 235.2 366.0 234.9C367.7 234.5 369.7 234.3 371.5 234.3C373.4 234.3 375.3 234.5 377.1 234.9C378.9 235.2 380.7 235.8 382.3 236.5C383.8 237.2 385.3 238.1 386.6 239.1C387.8 240.1 388.9 241.3 389.7 242.6C390.6 243.8 391.2 245.2 391.5 246.5C391.9 247.9 391.8 250.1 391.9 250.8"/>
<path d="M349.5 250.8C349.5 250.0 349.2 247.4 349.5 245.9C349.7 244.3 350.3 242.7 351.1 241.2C351.9 239.8 353.1 238.5 354.4 237.3C355.7 236.1 357.4 235.1 359.1 234.3C360.9 233.4 362.9 232.8 364.9 232.4C367.0 231.9 369.2 231.7 371.4 231.7C373.5 231.7 375.8 231.9 377.9 232.4C380.0 232.8 382.1 233.4 383.9 234.3C385.7 235.1 387.5 236.1 388.9 237.3C390.4 238.5 391.6 239.8 392.6 241.2C393.5 242.7 394.2 244.3 394.7 245.9C395.1 247.4 395.0 250.0 395.1 250.8"/>
<path d="M346.3 250.8C346.3 249.9 346.0 247.0 346.3 245.2C346.6 243.4 347.2 241.6 348.1 240.0C349.1 238.3 350.4 236.8 351.9 235.5C353.4 234.1 355.3 232.9 357.3 232.0C359.3 231.1 361.6 230.3 363.9 229.8C366.2 229.4 368.8 229.1 371.3 229.1C373.7 229.1 376.3 229.4 378.7 229.8C381.1 230.3 383.4 231.1 385.5 232.0C387.6 232.9 389.6 234.1 391.2 235.5C392.9 236.8 394.3 238.3 395.4 240.0C396.5 241.6 397.3 243.4 397.8 245.2C398.3 247.0 398.2 249.9 398.3 250.8"/>
<path d="M327 122.3C331.5 122.3 333.3 124 333.3 128.5V142.5C333.3 147 331.5 148.5 327 148.5" stroke-width="1.5"/>
</g>
<path d="M343.5 256.5L346.5 250.5H436L441 253H466L470 256.5Z" fill="#000"/>
<path d="M333 255.5l4-3M337 255.5l5-4M341 255.5l5-4" stroke="#000" stroke-width="1" fill="none"/>
<path d="M352 253.2h5M362 253.6h3M381 253.4h6M394 253.1h4" stroke="#fff" stroke-width="0.7" fill="none"/>
<path d="M500 256C500.5 253.3 503.5 253 505 255" stroke="#000" stroke-width="1" fill="none"/>
<ellipse cx="372.3" cy="253.6" rx="2.6" ry="0.7" fill="#fff"/>
<g stroke="#000" fill="none">
<line x1="325.5" y1="77.5" x2="508.0" y2="77.5" stroke-width="2"/>
<line x1="326.7" y1="77.5" x2="326.7" y2="257.0" stroke-width="2.8"/>
<line x1="326.0" y1="256.0" x2="508.0" y2="256.0" stroke-width="2.4"/>
<line x1="505.5" y1="77.5" x2="505.5" y2="256.0" stroke-width="1.2"/>
<line x1="507.6" y1="77.5" x2="507.6" y2="256.0" stroke-width="1" stroke="#444"/>
<line x1="400.3" y1="77.5" x2="400.3" y2="256.0" stroke-width="1"/>
<line x1="327.0" y1="197.7" x2="506.0" y2="197.7" stroke-width="1"/>
<path d="M327.0 256.0v5.6M327.0 256.0h-5.4M340.5 256.0v3.6M327.0 242.6h-3.4M348.5 256.0v3.6M327.0 234.7h-3.4M354.1 256.0v3.6M327.0 229.1h-3.4M358.5 256.0v3.6M327.0 224.8h-3.4M362.0 256.0v3.6M327.0 221.3h-3.4M365.0 256.0v3.6M327.0 218.3h-3.4M367.6 256.0v3.6M327.0 215.7h-3.4M369.9 256.0v3.6M327.0 213.4h-3.4M372.0 256.0v5.6M327.0 211.4h-5.4M385.5 256.0v3.6M327.0 198.0h-3.4M393.5 256.0v3.6M327.0 190.1h-3.4M399.1 256.0v3.6M327.0 184.5h-3.4M403.5 256.0v3.6M327.0 180.2h-3.4M407.0 256.0v3.6M327.0 176.7h-3.4M410.0 256.0v3.6M327.0 173.7h-3.4M412.6 256.0v3.6M327.0 171.1h-3.4M414.9 256.0v3.6M327.0 168.8h-3.4M417.0 256.0v5.6M327.0 166.8h-5.4M430.5 256.0v3.6M327.0 153.4h-3.4M438.5 256.0v3.6M327.0 145.5h-3.4M444.1 256.0v3.6M327.0 139.9h-3.4M448.5 256.0v3.6M327.0 135.6h-3.4M452.0 256.0v3.6M327.0 132.1h-3.4M455.0 256.0v3.6M327.0 129.1h-3.4M457.6 256.0v3.6M327.0 126.5h-3.4M459.9 256.0v3.6M327.0 124.2h-3.4M462.0 256.0v5.6M327.0 122.2h-5.4M475.5 256.0v3.6M327.0 108.8h-3.4M483.5 256.0v3.6M327.0 100.9h-3.4M489.1 256.0v3.6M327.0 95.3h-3.4M493.5 256.0v3.6M327.0 91.0h-3.4M497.0 256.0v3.6M327.0 87.5h-3.4M500.0 256.0v3.6M327.0 84.5h-3.4M502.6 256.0v3.6M327.0 81.9h-3.4M504.9 256.0v3.6M327.0 79.6h-3.4M507.0 256.0v5.6M327.0 77.6h-5.4" stroke-width="1"/>
</g>
<path d="M409.5 100H499.5M454.5 82V117.5" stroke="#000" stroke-width="2" fill="none"/>
<text x="418" y="96" font-size="13" stroke="#000" stroke-width="0.9" textLength="31.5" lengthAdjust="spacingAndGlyphs">3.6%</text>
<text x="458" y="114.7" font-size="13" stroke="#000" stroke-width="0.9" textLength="31.5" lengthAdjust="spacingAndGlyphs">5.6%</text>
</g>
<text y="283.2" font-size="17.3"><tspan x="312.0" textLength="20.2" lengthAdjust="spacingAndGlyphs">10</tspan><tspan x="333.0" dy="-7" font-size="12.3" textLength="7.4" lengthAdjust="spacingAndGlyphs">0</tspan></text>
<text y="263.2" font-size="17.3"><tspan x="289.3" textLength="20.2" lengthAdjust="spacingAndGlyphs">10</tspan><tspan x="310.3" dy="-7" font-size="12.3" textLength="7.4" lengthAdjust="spacingAndGlyphs">0</tspan></text>
<text y="283.2" font-size="17.3"><tspan x="356.4" textLength="20.2" lengthAdjust="spacingAndGlyphs">10</tspan><tspan x="377.4" dy="-7" font-size="12.3" textLength="7.4" lengthAdjust="spacingAndGlyphs">1</tspan></text>
<text y="217.6" font-size="17.3"><tspan x="289.3" textLength="20.2" lengthAdjust="spacingAndGlyphs">10</tspan><tspan x="310.3" dy="-7" font-size="12.3" textLength="7.4" lengthAdjust="spacingAndGlyphs">1</tspan></text>
<text y="283.2" font-size="17.3"><tspan x="400.8" textLength="20.2" lengthAdjust="spacingAndGlyphs">10</tspan><tspan x="421.8" dy="-7" font-size="12.3" textLength="7.4" lengthAdjust="spacingAndGlyphs">2</tspan></text>
<text y="172.0" font-size="17.3"><tspan x="289.3" textLength="20.2" lengthAdjust="spacingAndGlyphs">10</tspan><tspan x="310.3" dy="-7" font-size="12.3" textLength="7.4" lengthAdjust="spacingAndGlyphs">2</tspan></text>
<text y="283.2" font-size="17.3"><tspan x="445.2" textLength="20.2" lengthAdjust="spacingAndGlyphs">10</tspan><tspan x="466.2" dy="-7" font-size="12.3" textLength="7.4" lengthAdjust="spacingAndGlyphs">3</tspan></text>
<text y="126.4" font-size="17.3"><tspan x="289.3" textLength="20.2" lengthAdjust="spacingAndGlyphs">10</tspan><tspan x="310.3" dy="-7" font-size="12.3" textLength="7.4" lengthAdjust="spacingAndGlyphs">3</tspan></text>
<text y="283.2" font-size="17.3"><tspan x="489.6" textLength="20.2" lengthAdjust="spacingAndGlyphs">10</tspan><tspan x="510.6" dy="-7" font-size="12.3" textLength="7.4" lengthAdjust="spacingAndGlyphs">4</tspan></text>
<text y="80.8" font-size="17.3"><tspan x="289.3" textLength="20.2" lengthAdjust="spacingAndGlyphs">10</tspan><tspan x="310.3" dy="-7" font-size="12.3" textLength="7.4" lengthAdjust="spacingAndGlyphs">4</tspan></text>
<text transform="translate(281.8 183.4) rotate(-90)" font-size="22.5" textLength="41" lengthAdjust="spacingAndGlyphs">DX5</text>
<text x="385.2" y="304.8" font-size="21.5" textLength="54.5" lengthAdjust="spacingAndGlyphs">CD19</text>
<g id="bars">
<g stroke="#000" stroke-width="1.5" fill="none">
<path d="M78.8 669.0H486.3M78.8 629.7H486.3M78.8 590.4H486.3M78.8 551.1H486.3M78.8 511.7H486.3M78.8 472.4H486.3M78.8 433.1H486.3M78.8 393.8H486.3"/>
<path d="M78.8 393.8V672.0M486.3 393.8V672.0"/>
<path d="M282.5 669.0v3.5" />
</g>
<line x1="78.3" y1="669.0" x2="486.8" y2="669.0" stroke="#000" stroke-width="1.8"/>
<text x="63.6" y="666.3" font-size="21.5" text-anchor="end">0</text>
<text x="63.6" y="627.0" font-size="21.5" text-anchor="end">2</text>
<text x="63.6" y="587.7" font-size="21.5" text-anchor="end">4</text>
<text x="63.6" y="548.4" font-size="21.5" text-anchor="end">6</text>
<text x="63.6" y="509.0" font-size="21.5" text-anchor="end">8</text>
<text x="63.6" y="469.7" font-size="21.5" text-anchor="end">10</text>
<text x="63.6" y="430.4" font-size="21.5" text-anchor="end">12</text>
<text x="63.6" y="391.1" font-size="21.5" text-anchor="end">14</text>
<rect x="122.5" y="433.6" width="58.6" height="235.4" fill="#fff" stroke="#000" stroke-width="1.6"/>
<rect x="181.2" y="565.2" width="58.8" height="103.8" fill="url(#h)" stroke="#000" stroke-width="2"/>
<rect x="327.3" y="647.2" width="58.5" height="21.8" fill="#fff" stroke="#000" stroke-width="1.9"/>
<rect x="386" y="652.8" width="57.2" height="16.2" fill="url(#h3)" stroke="#000" stroke-width="2.3"/>
<rect x="217.8" y="408.8" width="260" height="109.8" fill="#fff" stroke="#8a8a8a" stroke-width="1"/>
<rect x="227.6" y="423.6" width="31.8" height="30.6" fill="#fff" stroke="#000" stroke-width="1.6"/>
<rect x="227.8" y="469.6" width="31.6" height="31.6" fill="url(#h2)" stroke="#000" stroke-width="2"/>
<text x="269.3" y="445" font-size="27.3" textLength="181" lengthAdjust="spacingAndGlyphs">B lineage cells</text>
<text x="268" y="492.3" font-size="27.3" textLength="201" lengthAdjust="spacingAndGlyphs">NK lineage cells</text>
<text transform="translate(25.4 625.3) rotate(-90)" font-size="33" textLength="176" lengthAdjust="spacingAndGlyphs">Yield / Input</text>
<text x="74.3" y="713.3" font-size="33" textLength="189" lengthAdjust="spacingAndGlyphs">Control mice</text>
<text x="314.5" y="713.2" font-size="33" textLength="156" lengthAdjust="spacingAndGlyphs">β-estradiol</text>
<text x="300.8" y="754" font-size="33" textLength="184" lengthAdjust="spacingAndGlyphs">treated mice</text>
</g>
</svg>
</body></html>
